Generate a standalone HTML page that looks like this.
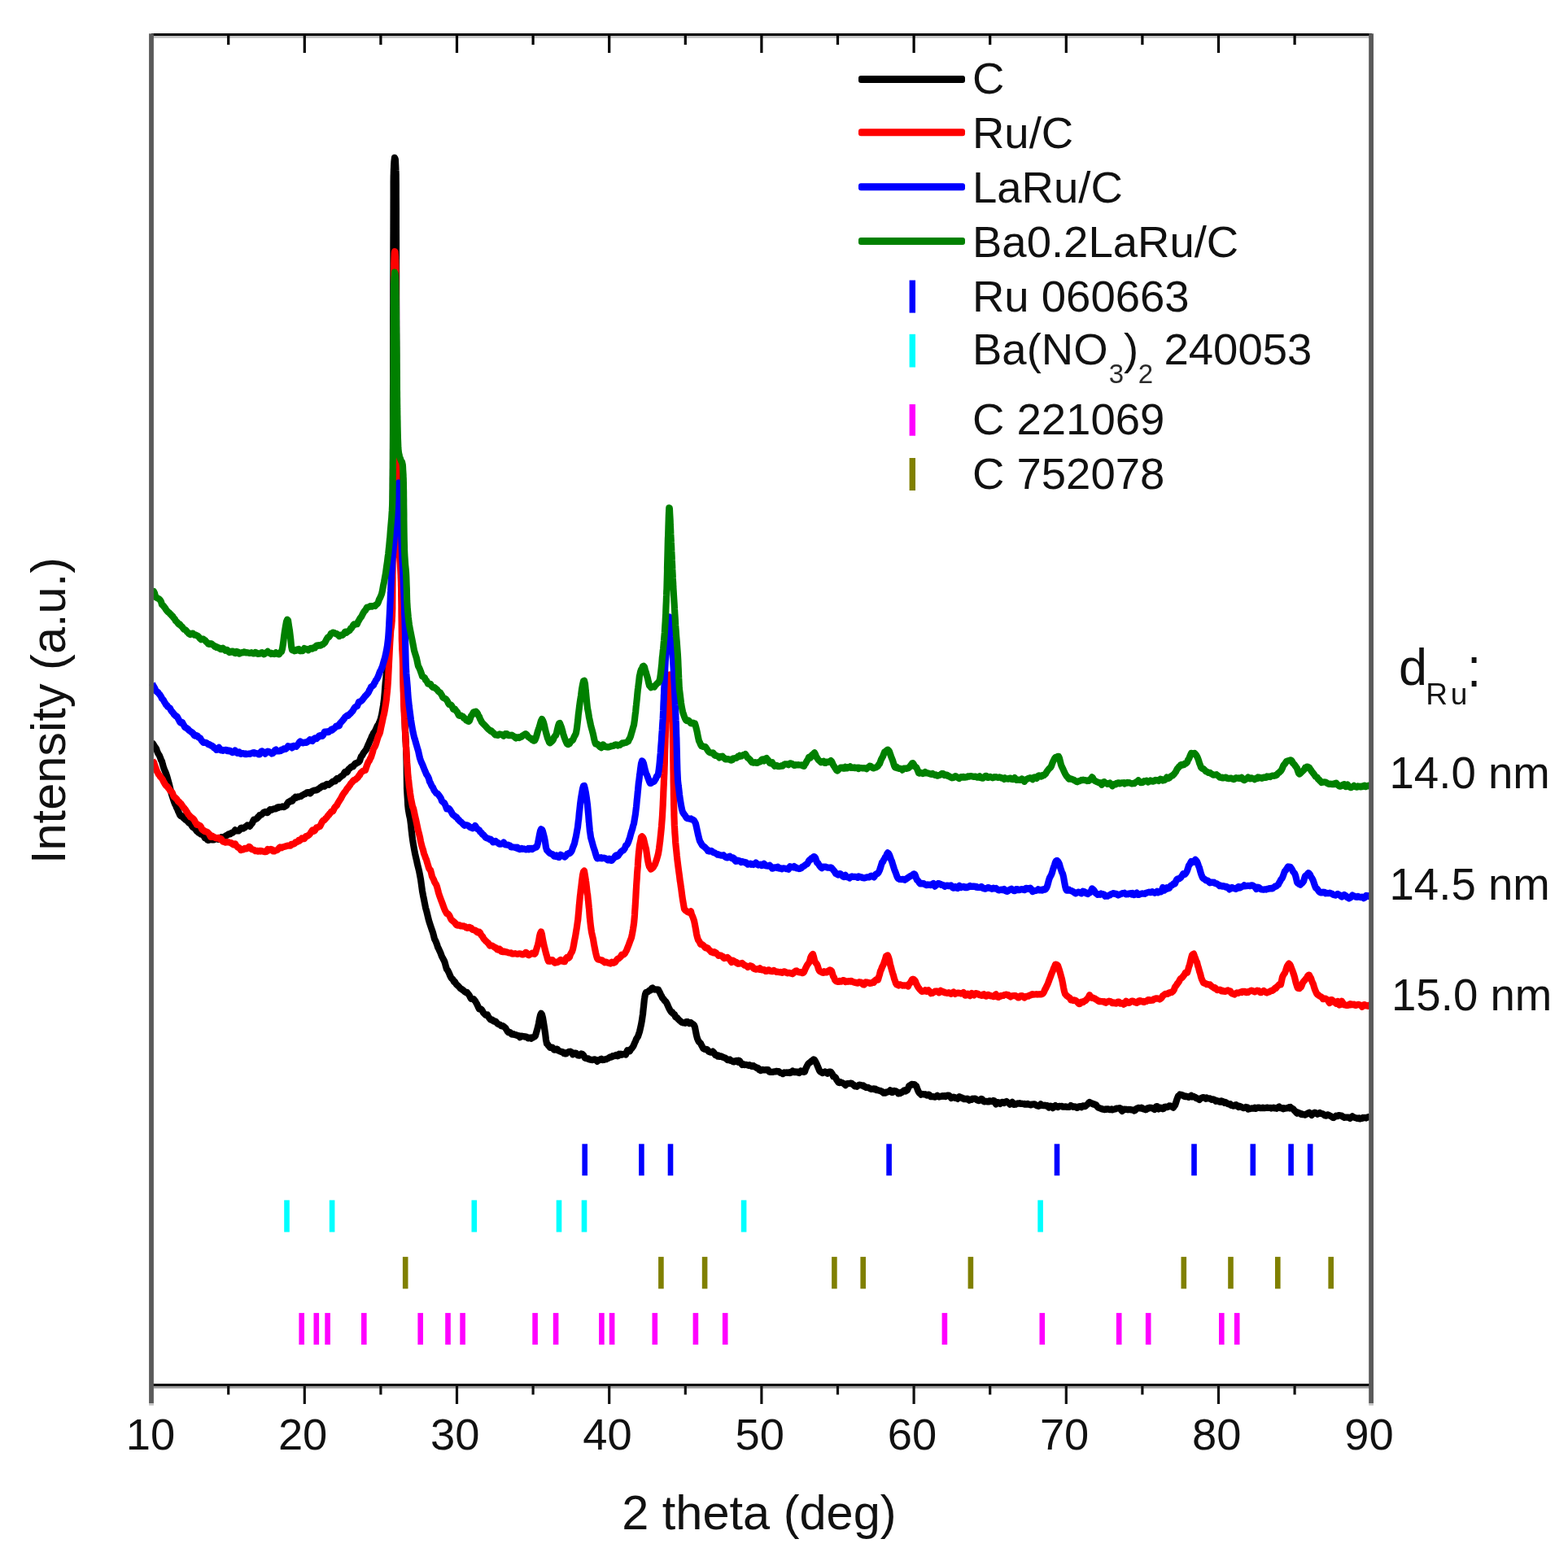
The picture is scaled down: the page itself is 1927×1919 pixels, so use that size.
<!DOCTYPE html>
<html><head><meta charset="utf-8"><title>XRD patterns</title>
<style>html,body{margin:0;padding:0;background:#fff;}body{width:1927px;height:1919px;overflow:hidden;}svg{display:block;}</style>
</head><body>
<svg width="1927" height="1919" viewBox="0 0 1927 1919" font-family="'Liberation Sans', Arial, sans-serif" fill="#111">
<rect width="1927" height="1919" fill="#fff"/>
<path d="M187.0,913.4 L188.0,914.1 L189.0,916.0 L190.0,917.4 L191.0,918.9 L192.0,920.3 L193.0,923.1 L194.0,925.7 L195.0,927.3 L196.0,928.9 L197.0,931.4 L198.0,934.4 L199.0,936.0 L200.0,939.9 L201.0,943.3 L202.0,946.0 L203.0,948.5 L204.0,950.7 L205.0,953.7 L206.0,957.1 L207.0,960.8 L208.0,964.3 L209.0,968.7 L210.0,972.7 L211.0,976.7 L212.0,979.5 L213.0,982.8 L214.0,985.8 L215.0,988.4 L216.0,989.9 L217.0,992.8 L218.0,994.6 L219.0,997.2 L220.0,999.4 L221.0,1001.7 L222.0,1003.0 L223.0,1002.6 L224.0,1003.1 L225.0,1005.0 L226.0,1006.1 L227.0,1006.7 L228.0,1007.9 L229.0,1008.0 L230.0,1009.2 L231.0,1010.0 L232.0,1011.5 L233.0,1011.8 L234.0,1012.9 L235.0,1013.9 L236.0,1015.6 L237.0,1016.9 L238.0,1017.1 L239.0,1017.9 L240.0,1019.3 L241.0,1020.5 L242.0,1021.9 L243.0,1022.5 L244.0,1023.7 L245.0,1023.9 L246.0,1024.7 L247.0,1025.6 L248.0,1025.9 L249.0,1025.7 L250.0,1026.8 L251.0,1028.6 L252.0,1030.3 L253.0,1030.7 L254.0,1031.3 L255.0,1032.4 L256.0,1033.0 L257.0,1032.6 L258.0,1031.9 L259.0,1031.3 L260.0,1032.5 L261.0,1032.4 L262.0,1032.5 L263.0,1032.2 L264.0,1031.9 L265.0,1031.4 L266.0,1031.4 L267.0,1031.1 L268.0,1031.7 L269.0,1032.0 L270.0,1031.6 L271.0,1030.0 L272.0,1029.2 L273.0,1029.2 L274.0,1029.1 L275.0,1029.3 L276.0,1028.5 L277.0,1028.0 L278.0,1027.1 L279.0,1026.8 L280.0,1026.0 L281.0,1025.3 L282.0,1025.2 L283.0,1025.3 L284.0,1024.1 L285.0,1023.6 L286.0,1023.7 L287.0,1022.7 L288.0,1021.8 L289.0,1020.4 L290.0,1021.4 L291.0,1021.5 L292.0,1021.3 L293.0,1021.5 L294.0,1020.7 L295.0,1019.9 L296.0,1018.0 L297.0,1017.7 L298.0,1018.4 L299.0,1018.6 L300.0,1017.4 L301.0,1017.3 L302.0,1016.1 L303.0,1015.4 L304.0,1014.5 L305.0,1015.1 L306.0,1015.0 L307.0,1015.8 L308.0,1014.2 L309.0,1013.2 L310.0,1011.8 L311.0,1009.4 L312.0,1007.7 L313.0,1007.6 L314.0,1007.2 L315.0,1006.7 L316.0,1006.1 L317.0,1004.4 L318.0,1004.0 L319.0,1002.1 L320.0,1002.2 L321.0,1001.7 L322.0,1000.9 L323.0,999.9 L324.0,998.8 L325.0,998.5 L326.0,998.0 L327.0,998.5 L328.0,999.1 L329.0,999.1 L330.0,997.6 L331.0,996.2 L332.0,995.2 L333.0,996.0 L334.0,995.6 L335.0,995.1 L336.0,994.5 L337.0,994.3 L338.0,994.2 L339.0,994.3 L340.0,993.1 L341.0,992.5 L342.0,993.0 L343.0,992.2 L344.0,992.1 L345.0,992.2 L346.0,992.0 L347.0,991.4 L348.0,991.7 L349.0,992.1 L350.0,991.4 L351.0,990.9 L352.0,990.3 L353.0,987.9 L354.0,986.4 L355.0,985.7 L356.0,985.9 L357.0,984.5 L358.0,984.9 L359.0,984.9 L360.0,983.4 L361.0,981.5 L362.0,980.9 L363.0,979.9 L364.0,980.7 L365.0,979.9 L366.0,979.4 L367.0,979.7 L368.0,979.3 L369.0,979.1 L370.0,978.9 L371.0,977.9 L372.0,977.4 L373.0,976.9 L374.0,976.1 L375.0,976.1 L376.0,975.2 L377.0,974.4 L378.0,974.3 L379.0,974.0 L380.0,974.3 L381.0,975.3 L382.0,974.6 L383.0,972.9 L384.0,972.6 L385.0,972.0 L386.0,971.8 L387.0,971.5 L388.0,971.5 L389.0,971.2 L390.0,970.9 L391.0,970.0 L392.0,969.4 L393.0,968.9 L394.0,967.8 L395.0,967.4 L396.0,966.5 L397.0,966.2 L398.0,965.7 L399.0,966.7 L400.0,965.5 L401.0,964.3 L402.0,963.9 L403.0,964.6 L404.0,964.8 L405.0,963.8 L406.0,963.3 L407.0,962.3 L408.0,961.8 L409.0,960.5 L410.0,960.5 L411.0,960.5 L412.0,960.4 L413.0,958.1 L414.0,957.2 L415.0,957.1 L416.0,957.6 L417.0,956.4 L418.0,955.5 L419.0,954.5 L420.0,953.8 L421.0,953.3 L422.0,952.5 L423.0,950.4 L424.0,949.0 L425.0,949.3 L426.0,949.5 L427.0,948.5 L428.0,946.3 L429.0,945.0 L430.0,944.4 L431.0,943.3 L432.0,942.5 L433.0,942.1 L434.0,942.4 L435.0,940.8 L436.0,939.3 L437.0,938.4 L438.0,938.5 L439.0,937.5 L440.0,937.5 L441.0,936.6 L442.0,935.5 L443.0,932.3 L444.0,929.6 L445.0,929.1 L446.0,927.0 L447.0,925.2 L448.0,924.1 L449.0,922.8 L450.0,921.5 L451.0,919.2 L452.0,916.7 L453.0,914.7 L454.0,912.2 L455.0,909.8 L456.0,907.8 L457.0,905.2 L458.0,903.5 L459.0,901.2 L460.0,899.9 L461.0,898.6 L462.0,896.4 L463.0,894.1 L464.0,891.9 L465.0,891.1 L466.0,888.4 L467.0,886.2 L468.0,883.1 L469.0,879.1 L470.0,873.4 L471.0,867.4 L471.8,861.3 L472.0,859.8 L472.2,858.1 L472.8,851.0 L473.0,848.3 L473.2,845.5 L473.8,838.4 L474.0,837.0 L474.2,835.5 L474.8,827.8 L475.0,826.4 L475.2,824.2 L475.8,818.0 L476.0,815.1 L476.2,811.3 L476.7,803.3 L476.9,800.3 L477.0,798.4 L477.1,796.7 L477.3,793.8 L477.8,785.5 L478.0,782.6 L478.2,778.9 L478.8,772.9 L479.0,770.8 L479.2,768.6 L479.8,761.6 L480.0,758.0 L480.2,753.5 L480.6,746.2 L480.7,743.1 L480.8,739.5 L480.9,737.2 L481.0,735.3 L481.1,733.3 L481.2,729.3 L481.3,725.3 L481.4,720.2 L481.6,712.5 L481.6,710.0 L481.7,707.7 L481.7,703.9 L481.8,701.8 L481.8,698.1 L481.9,694.9 L481.9,692.4 L482.0,688.6 L482.1,684.7 L482.1,681.2 L482.2,677.6 L482.2,673.4 L482.3,668.2 L482.3,663.4 L482.4,658.0 L482.4,651.6 L482.5,639.5 L482.6,633.0 L482.6,626.0 L482.7,618.7 L482.7,611.1 L482.8,602.8 L482.8,592.0 L482.9,574.9 L482.9,552.9 L483.0,526.4 L483.0,512.6 L483.0,498.4 L483.1,469.2 L483.1,441.8 L483.2,415.3 L483.2,394.2 L483.3,372.1 L483.3,350.0 L483.4,326.8 L483.4,302.9 L483.5,281.5 L483.6,240.2 L483.6,224.3 L483.7,215.9 L483.8,213.5 L483.8,211.8 L483.9,210.2 L483.9,208.3 L484.0,207.1 L484.1,204.6 L484.1,204.2 L484.2,202.4 L484.2,201.9 L484.3,200.4 L484.4,199.2 L484.4,198.8 L485.0,193.8 L485.8,195.6 L486.0,198.2 L486.2,202.8 L486.5,210.0 L486.6,211.5 L486.6,212.6 L486.7,214.4 L486.7,217.5 L486.8,226.0 L486.8,239.3 L486.9,256.2 L486.9,275.3 L487.0,296.8 L487.0,308.1 L487.0,319.6 L487.1,342.2 L487.1,365.3 L487.2,385.9 L487.2,405.3 L487.3,425.6 L487.3,448.8 L487.4,472.3 L487.4,495.1 L487.5,517.3 L487.5,549.9 L487.6,559.6 L487.6,564.8 L487.7,569.4 L487.7,574.4 L487.8,579.3 L487.8,583.6 L487.9,587.8 L487.9,591.6 L488.0,594.9 L488.0,597.2 L488.0,598.3 L488.1,602.5 L488.1,605.3 L488.2,608.2 L488.2,611.2 L488.3,614.0 L488.3,615.9 L488.4,618.1 L488.4,620.5 L488.5,622.2 L488.6,629.7 L488.8,634.9 L488.9,637.8 L489.0,640.1 L489.1,641.0 L489.2,644.5 L489.4,647.0 L489.8,653.2 L490.0,656.6 L490.2,659.7 L490.8,665.0 L491.0,666.7 L491.2,668.2 L491.8,676.7 L492.0,679.8 L492.2,683.5 L492.8,690.0 L493.0,694.3 L493.2,697.2 L493.6,705.3 L493.8,708.8 L493.9,711.8 L494.0,713.5 L494.1,715.6 L494.2,719.4 L494.4,724.8 L494.5,733.4 L494.6,735.3 L494.6,736.9 L494.7,739.4 L494.7,742.2 L494.8,745.4 L494.8,747.7 L494.9,750.8 L494.9,754.6 L495.0,757.9 L495.0,759.3 L495.0,761.1 L495.1,766.4 L495.1,773.4 L495.2,780.3 L495.2,788.7 L495.3,795.0 L495.3,800.7 L495.4,806.0 L495.4,810.5 L495.5,814.2 L495.6,826.9 L495.7,833.6 L495.8,838.4 L495.9,842.5 L496.0,846.5 L496.0,847.7 L496.0,850.3 L496.1,852.0 L496.2,855.2 L496.3,858.0 L496.4,860.4 L496.6,866.2 L496.8,869.8 L496.9,873.3 L497.0,875.6 L497.1,876.3 L497.2,880.5 L497.4,883.6 L497.7,891.1 L497.8,895.0 L498.0,898.5 L498.2,902.1 L498.3,905.8 L498.6,911.1 L498.8,913.3 L498.9,917.0 L499.0,918.6 L499.1,919.2 L499.2,923.7 L499.4,928.9 L499.6,938.7 L499.7,945.7 L499.8,953.5 L499.9,960.8 L500.0,966.2 L500.0,967.6 L500.0,969.0 L500.1,970.5 L500.2,972.4 L500.3,973.9 L500.4,976.0 L500.8,981.6 L501.0,985.6 L501.2,989.5 L501.8,995.2 L502.0,996.5 L502.2,997.5 L503.0,1002.0 L504.0,1006.3 L505.0,1014.1 L505.8,1022.2 L506.0,1023.1 L506.2,1025.5 L507.0,1031.8 L508.0,1038.2 L509.0,1043.9 L510.0,1049.1 L511.0,1053.6 L512.0,1057.7 L513.0,1062.6 L514.0,1066.6 L515.0,1070.5 L516.0,1075.6 L517.0,1080.9 L518.0,1088.3 L519.0,1095.4 L520.0,1100.8 L521.0,1105.6 L522.0,1110.7 L523.0,1115.8 L524.0,1119.3 L525.0,1123.3 L526.0,1127.5 L527.0,1131.5 L528.0,1134.7 L529.0,1137.7 L530.0,1140.7 L531.0,1143.6 L532.0,1146.5 L533.0,1150.2 L534.0,1154.4 L535.0,1156.1 L536.0,1158.4 L537.0,1160.9 L538.0,1164.4 L539.0,1166.1 L540.0,1168.5 L541.0,1170.6 L542.0,1173.1 L543.0,1175.8 L544.0,1177.7 L545.0,1179.7 L546.0,1181.4 L547.0,1184.4 L548.0,1188.3 L549.0,1191.5 L550.0,1192.7 L551.0,1194.4 L552.0,1196.5 L553.0,1199.2 L554.0,1201.2 L555.0,1202.7 L556.0,1203.5 L557.0,1204.9 L558.0,1207.0 L559.0,1206.8 L560.0,1208.8 L561.0,1210.3 L562.0,1211.2 L563.0,1211.9 L564.0,1213.0 L565.0,1214.2 L566.0,1215.3 L567.0,1215.6 L568.0,1216.7 L569.0,1217.1 L570.0,1218.0 L571.0,1219.1 L572.0,1219.7 L573.0,1220.1 L574.0,1219.9 L575.0,1221.5 L576.0,1222.6 L577.0,1224.1 L578.0,1226.2 L579.0,1227.8 L580.0,1227.7 L581.0,1228.1 L582.0,1228.0 L583.0,1229.6 L584.0,1230.5 L585.0,1232.5 L586.0,1234.0 L587.0,1236.3 L588.0,1238.4 L589.0,1240.6 L590.0,1240.8 L591.0,1240.5 L592.0,1241.4 L593.0,1243.0 L594.0,1245.1 L595.0,1245.9 L596.0,1247.0 L597.0,1247.9 L598.0,1247.7 L599.0,1247.5 L600.0,1249.6 L601.0,1251.2 L602.0,1252.4 L603.0,1253.6 L604.0,1253.5 L605.0,1253.6 L606.0,1255.0 L607.0,1255.7 L608.0,1255.4 L609.0,1255.5 L610.0,1256.8 L611.0,1258.1 L612.0,1258.9 L613.0,1259.2 L614.0,1259.4 L615.0,1260.2 L616.0,1261.1 L617.0,1261.5 L618.0,1261.1 L619.0,1261.9 L620.0,1262.8 L621.0,1263.4 L622.0,1265.1 L623.0,1266.7 L624.0,1268.4 L625.0,1269.2 L626.0,1268.9 L627.0,1269.2 L628.0,1270.5 L629.0,1271.5 L630.0,1271.7 L631.0,1271.1 L632.0,1272.0 L633.0,1272.2 L634.0,1272.1 L635.0,1272.7 L636.0,1273.1 L637.0,1273.0 L638.0,1273.4 L639.0,1275.1 L640.0,1274.0 L641.0,1273.5 L642.0,1273.9 L643.0,1274.2 L644.0,1274.0 L645.0,1274.7 L646.0,1274.4 L647.0,1274.7 L648.0,1275.6 L649.0,1276.4 L650.0,1275.8 L651.0,1276.0 L652.0,1275.7 L653.0,1276.6 L654.0,1275.3 L655.0,1275.6 L656.0,1274.8 L657.0,1274.4 L658.0,1273.3 L659.0,1269.6 L660.0,1266.3 L661.0,1262.6 L662.0,1258.0 L663.0,1252.5 L664.0,1248.2 L665.0,1245.8 L666.0,1247.2 L667.0,1251.0 L668.0,1257.0 L669.0,1263.1 L669.8,1268.8 L670.0,1269.7 L670.2,1271.3 L671.0,1278.2 L672.0,1283.1 L673.0,1283.6 L674.0,1285.5 L675.0,1286.4 L676.0,1287.7 L677.0,1288.0 L678.0,1287.8 L679.0,1287.7 L680.0,1289.2 L681.0,1290.6 L682.0,1290.6 L683.0,1290.0 L684.0,1289.6 L685.0,1289.8 L686.0,1291.6 L687.0,1291.9 L688.0,1292.4 L689.0,1292.8 L690.0,1292.9 L691.0,1293.6 L692.0,1293.4 L693.0,1295.0 L694.0,1295.0 L695.0,1295.5 L696.0,1295.3 L697.0,1293.9 L698.0,1293.5 L699.0,1292.9 L700.0,1293.2 L701.0,1292.7 L702.0,1293.3 L703.0,1294.0 L704.0,1296.2 L705.0,1295.7 L706.0,1294.5 L707.0,1294.5 L708.0,1294.7 L709.0,1296.2 L710.0,1297.4 L711.0,1297.5 L712.0,1297.7 L713.0,1296.7 L714.0,1295.6 L715.0,1296.6 L716.0,1296.0 L717.0,1297.2 L718.0,1298.9 L719.0,1300.7 L720.0,1300.9 L721.0,1301.3 L722.0,1301.3 L723.0,1301.4 L724.0,1302.2 L725.0,1302.5 L726.0,1302.8 L727.0,1303.0 L728.0,1303.1 L729.0,1302.5 L730.0,1302.6 L731.0,1302.3 L732.0,1303.1 L733.0,1303.7 L734.0,1304.8 L735.0,1303.2 L736.0,1303.0 L737.0,1303.1 L738.0,1302.2 L739.0,1301.7 L740.0,1303.0 L741.0,1303.1 L742.0,1302.9 L743.0,1302.3 L744.0,1302.3 L745.0,1302.2 L746.0,1301.6 L747.0,1301.2 L748.0,1300.8 L749.0,1299.9 L750.0,1299.3 L751.0,1299.6 L752.0,1299.3 L753.0,1298.1 L754.0,1298.2 L755.0,1298.2 L756.0,1297.6 L757.0,1297.0 L758.0,1297.8 L759.0,1298.3 L760.0,1297.8 L761.0,1295.8 L762.0,1297.0 L763.0,1295.9 L764.0,1296.7 L765.0,1296.4 L766.0,1295.9 L767.0,1295.6 L768.0,1295.5 L769.0,1296.4 L770.0,1293.9 L771.0,1291.3 L772.0,1292.2 L773.0,1291.7 L774.0,1292.2 L775.0,1290.0 L776.0,1289.2 L777.0,1287.9 L778.0,1286.6 L779.0,1284.6 L780.0,1282.0 L781.0,1280.0 L782.0,1277.3 L783.0,1275.8 L784.0,1274.3 L785.0,1271.2 L786.0,1268.2 L787.0,1263.9 L788.0,1259.4 L789.0,1253.7 L789.8,1248.0 L790.0,1247.0 L790.2,1244.9 L790.8,1238.9 L791.0,1237.7 L791.2,1235.3 L791.8,1229.4 L792.0,1227.7 L792.2,1226.8 L793.0,1222.3 L794.0,1219.8 L795.0,1219.9 L796.0,1219.4 L797.0,1218.7 L798.0,1217.7 L799.0,1217.7 L800.0,1216.8 L801.0,1215.0 L802.0,1214.5 L803.0,1215.8 L804.0,1216.4 L805.0,1216.6 L806.0,1216.4 L807.0,1216.5 L808.0,1216.8 L809.0,1216.6 L810.0,1218.7 L811.0,1220.4 L812.0,1222.7 L813.0,1224.2 L814.0,1226.8 L815.0,1227.5 L816.0,1229.0 L817.0,1230.4 L818.0,1231.1 L819.0,1232.6 L820.0,1234.5 L821.0,1236.8 L822.0,1239.1 L823.0,1241.0 L824.0,1242.8 L825.0,1244.3 L826.0,1244.1 L827.0,1246.2 L828.0,1246.7 L829.0,1247.1 L830.0,1250.0 L831.0,1250.8 L832.0,1251.0 L833.0,1252.4 L834.0,1253.3 L835.0,1254.5 L836.0,1255.1 L837.0,1256.1 L838.0,1256.8 L839.0,1257.0 L840.0,1257.5 L841.0,1257.1 L842.0,1257.7 L843.0,1256.3 L844.0,1256.1 L845.0,1256.2 L846.0,1257.2 L847.0,1258.2 L848.0,1257.1 L849.0,1257.2 L850.0,1258.0 L851.0,1258.7 L852.0,1259.3 L853.0,1260.2 L854.0,1262.8 L855.0,1268.1 L856.0,1273.0 L857.0,1276.6 L858.0,1279.0 L859.0,1280.9 L860.0,1281.6 L861.0,1282.6 L862.0,1284.7 L863.0,1286.5 L864.0,1288.6 L865.0,1289.3 L866.0,1289.8 L867.0,1290.1 L868.0,1289.9 L869.0,1290.0 L870.0,1291.2 L871.0,1292.7 L872.0,1293.1 L873.0,1293.6 L874.0,1293.6 L875.0,1293.8 L876.0,1292.7 L877.0,1293.6 L878.0,1295.0 L879.0,1297.0 L880.0,1296.7 L881.0,1297.3 L882.0,1298.4 L883.0,1297.6 L884.0,1298.8 L885.0,1298.9 L886.0,1298.3 L887.0,1298.7 L888.0,1299.6 L889.0,1299.6 L890.0,1300.4 L891.0,1300.3 L892.0,1301.0 L893.0,1302.0 L894.0,1303.1 L895.0,1303.1 L896.0,1303.2 L897.0,1302.6 L898.0,1303.9 L899.0,1303.8 L900.0,1304.6 L901.0,1305.2 L902.0,1305.4 L903.0,1305.0 L904.0,1304.2 L905.0,1303.9 L906.0,1305.0 L907.0,1305.7 L908.0,1303.7 L909.0,1304.3 L910.0,1305.8 L911.0,1307.4 L912.0,1308.8 L913.0,1307.9 L914.0,1308.4 L915.0,1309.1 L916.0,1308.8 L917.0,1308.9 L918.0,1309.3 L919.0,1309.3 L920.0,1310.0 L921.0,1309.3 L922.0,1310.1 L923.0,1309.8 L924.0,1310.9 L925.0,1310.8 L926.0,1310.2 L927.0,1311.3 L928.0,1311.4 L929.0,1312.0 L930.0,1313.1 L931.0,1312.7 L932.0,1313.4 L933.0,1315.2 L934.0,1315.7 L935.0,1316.1 L936.0,1315.5 L937.0,1314.9 L938.0,1315.1 L939.0,1315.5 L940.0,1315.4 L941.0,1315.0 L942.0,1315.1 L943.0,1315.2 L944.0,1315.2 L945.0,1317.3 L946.0,1317.8 L947.0,1317.8 L948.0,1317.8 L949.0,1317.9 L950.0,1317.8 L951.0,1317.5 L952.0,1317.3 L953.0,1317.5 L954.0,1316.9 L955.0,1316.8 L956.0,1317.3 L957.0,1317.1 L958.0,1318.0 L959.0,1318.8 L960.0,1319.1 L961.0,1319.4 L962.0,1320.1 L963.0,1319.2 L964.0,1318.3 L965.0,1318.8 L966.0,1318.8 L967.0,1318.4 L968.0,1318.8 L969.0,1318.7 L970.0,1318.2 L971.0,1319.0 L972.0,1318.6 L973.0,1317.7 L974.0,1316.5 L975.0,1317.5 L976.0,1318.1 L977.0,1318.2 L978.0,1317.4 L979.0,1317.6 L980.0,1317.7 L981.0,1318.6 L982.0,1319.0 L983.0,1317.4 L984.0,1316.6 L985.0,1317.5 L986.0,1317.4 L987.0,1317.7 L988.0,1317.8 L989.0,1317.5 L990.0,1314.2 L991.0,1312.2 L992.0,1310.0 L993.0,1308.3 L994.0,1307.0 L995.0,1306.3 L996.0,1305.8 L997.0,1304.5 L998.0,1303.8 L999.0,1303.3 L1000.0,1302.4 L1001.0,1302.9 L1002.0,1304.7 L1003.0,1306.6 L1004.0,1308.6 L1005.0,1311.2 L1006.0,1313.5 L1007.0,1316.1 L1008.0,1317.6 L1009.0,1317.7 L1010.0,1318.7 L1011.0,1319.1 L1012.0,1318.4 L1013.0,1318.3 L1014.0,1317.5 L1015.0,1318.2 L1016.0,1318.9 L1017.0,1319.7 L1018.0,1318.2 L1019.0,1317.5 L1020.0,1317.5 L1021.0,1317.7 L1022.0,1319.0 L1023.0,1320.7 L1024.0,1323.4 L1025.0,1323.1 L1026.0,1323.9 L1027.0,1324.9 L1028.0,1327.2 L1029.0,1328.6 L1030.0,1330.2 L1031.0,1331.0 L1032.0,1331.1 L1033.0,1330.3 L1034.0,1331.0 L1035.0,1331.1 L1036.0,1331.5 L1037.0,1332.2 L1038.0,1333.0 L1039.0,1334.1 L1040.0,1332.8 L1041.0,1332.2 L1042.0,1332.2 L1043.0,1332.2 L1044.0,1332.0 L1045.0,1331.8 L1046.0,1331.5 L1047.0,1332.1 L1048.0,1333.3 L1049.0,1333.3 L1050.0,1334.9 L1051.0,1335.5 L1052.0,1335.4 L1053.0,1335.8 L1054.0,1335.0 L1055.0,1334.2 L1056.0,1333.7 L1057.0,1333.8 L1058.0,1334.1 L1059.0,1334.3 L1060.0,1334.8 L1061.0,1334.5 L1062.0,1335.9 L1063.0,1335.9 L1064.0,1336.8 L1065.0,1336.9 L1066.0,1336.8 L1067.0,1336.9 L1068.0,1337.5 L1069.0,1338.2 L1070.0,1338.7 L1071.0,1338.9 L1072.0,1338.5 L1073.0,1338.5 L1074.0,1338.4 L1075.0,1339.2 L1076.0,1338.7 L1077.0,1340.1 L1078.0,1339.9 L1079.0,1340.1 L1080.0,1340.6 L1081.0,1340.9 L1082.0,1340.9 L1083.0,1341.6 L1084.0,1341.8 L1085.0,1342.9 L1086.0,1343.7 L1087.0,1343.4 L1088.0,1343.6 L1089.0,1342.7 L1090.0,1342.6 L1091.0,1342.2 L1092.0,1342.1 L1093.0,1341.8 L1094.0,1340.4 L1095.0,1342.1 L1096.0,1343.0 L1097.0,1343.0 L1098.0,1341.2 L1099.0,1340.9 L1100.0,1341.5 L1101.0,1341.3 L1102.0,1342.2 L1103.0,1342.4 L1104.0,1344.3 L1105.0,1343.8 L1106.0,1344.1 L1107.0,1342.9 L1108.0,1343.3 L1109.0,1342.4 L1110.0,1341.9 L1111.0,1340.4 L1112.0,1340.2 L1113.0,1341.5 L1114.0,1340.8 L1115.0,1340.2 L1116.0,1338.1 L1117.0,1335.3 L1118.0,1334.5 L1119.0,1334.2 L1120.0,1333.1 L1121.0,1332.8 L1122.0,1333.4 L1123.0,1333.0 L1124.0,1333.2 L1125.0,1334.5 L1126.0,1335.1 L1127.0,1337.6 L1128.0,1340.3 L1129.0,1342.3 L1130.0,1344.0 L1131.0,1344.2 L1132.0,1345.7 L1133.0,1345.2 L1134.0,1345.1 L1135.0,1345.3 L1136.0,1345.4 L1137.0,1345.2 L1138.0,1345.4 L1139.0,1346.6 L1140.0,1346.5 L1141.0,1345.5 L1142.0,1345.7 L1143.0,1347.4 L1144.0,1348.2 L1145.0,1347.9 L1146.0,1348.2 L1147.0,1348.1 L1148.0,1348.5 L1149.0,1348.6 L1150.0,1348.3 L1151.0,1347.5 L1152.0,1346.7 L1153.0,1347.8 L1154.0,1348.5 L1155.0,1348.1 L1156.0,1348.1 L1157.0,1347.4 L1158.0,1347.2 L1159.0,1347.8 L1160.0,1347.2 L1161.0,1347.0 L1162.0,1347.9 L1163.0,1347.0 L1164.0,1346.8 L1165.0,1346.5 L1166.0,1346.6 L1167.0,1347.2 L1168.0,1348.5 L1169.0,1349.9 L1170.0,1348.7 L1171.0,1349.3 L1172.0,1348.7 L1173.0,1349.0 L1174.0,1349.9 L1175.0,1350.1 L1176.0,1350.0 L1177.0,1350.8 L1178.0,1348.8 L1179.0,1348.1 L1180.0,1348.6 L1181.0,1349.5 L1182.0,1349.4 L1183.0,1350.4 L1184.0,1350.4 L1185.0,1351.2 L1186.0,1350.8 L1187.0,1350.9 L1188.0,1351.4 L1189.0,1350.6 L1190.0,1351.3 L1191.0,1352.7 L1192.0,1352.3 L1193.0,1351.6 L1194.0,1351.9 L1195.0,1350.7 L1196.0,1351.0 L1197.0,1350.8 L1198.0,1350.5 L1199.0,1350.7 L1200.0,1351.8 L1201.0,1352.6 L1202.0,1352.7 L1203.0,1353.1 L1204.0,1352.2 L1205.0,1351.8 L1206.0,1350.9 L1207.0,1351.2 L1208.0,1353.0 L1209.0,1354.0 L1210.0,1354.4 L1211.0,1353.9 L1212.0,1353.8 L1213.0,1354.0 L1214.0,1354.5 L1215.0,1354.4 L1216.0,1353.3 L1217.0,1353.3 L1218.0,1353.8 L1219.0,1353.9 L1220.0,1353.9 L1221.0,1353.0 L1222.0,1353.4 L1223.0,1355.9 L1224.0,1357.3 L1225.0,1356.5 L1226.0,1355.1 L1227.0,1355.3 L1228.0,1356.1 L1229.0,1356.9 L1230.0,1356.0 L1231.0,1355.1 L1232.0,1354.8 L1233.0,1355.2 L1234.0,1356.0 L1235.0,1354.7 L1236.0,1354.8 L1237.0,1354.1 L1238.0,1355.2 L1239.0,1355.5 L1240.0,1356.1 L1241.0,1357.6 L1242.0,1356.7 L1243.0,1355.5 L1244.0,1354.8 L1245.0,1356.0 L1246.0,1357.9 L1247.0,1357.7 L1248.0,1357.7 L1249.0,1356.9 L1250.0,1356.8 L1251.0,1356.4 L1252.0,1356.6 L1253.0,1356.1 L1254.0,1356.9 L1255.0,1356.9 L1256.0,1356.6 L1257.0,1357.1 L1258.0,1357.3 L1259.0,1356.9 L1260.0,1357.7 L1261.0,1357.6 L1262.0,1357.2 L1263.0,1356.8 L1264.0,1357.7 L1265.0,1357.6 L1266.0,1358.2 L1267.0,1358.4 L1268.0,1357.5 L1269.0,1357.7 L1270.0,1357.3 L1271.0,1357.3 L1272.0,1357.6 L1273.0,1358.3 L1274.0,1359.2 L1275.0,1359.4 L1276.0,1359.8 L1277.0,1359.5 L1278.0,1358.7 L1279.0,1357.3 L1280.0,1358.2 L1281.0,1359.0 L1282.0,1359.1 L1283.0,1359.0 L1284.0,1358.7 L1285.0,1359.4 L1286.0,1359.1 L1287.0,1359.2 L1288.0,1359.9 L1289.0,1361.5 L1290.0,1360.3 L1291.0,1359.6 L1292.0,1359.9 L1293.0,1360.8 L1294.0,1362.1 L1295.0,1360.7 L1296.0,1360.4 L1297.0,1359.2 L1298.0,1360.3 L1299.0,1360.3 L1300.0,1361.0 L1301.0,1360.0 L1302.0,1359.9 L1303.0,1360.0 L1304.0,1360.0 L1305.0,1359.8 L1306.0,1360.7 L1307.0,1360.5 L1308.0,1360.7 L1309.0,1360.3 L1310.0,1360.6 L1311.0,1360.9 L1312.0,1361.0 L1313.0,1360.6 L1314.0,1360.8 L1315.0,1360.7 L1316.0,1359.1 L1317.0,1359.7 L1318.0,1360.1 L1319.0,1360.8 L1320.0,1360.4 L1321.0,1360.8 L1322.0,1360.7 L1323.0,1361.7 L1324.0,1361.9 L1325.0,1361.1 L1326.0,1360.4 L1327.0,1360.0 L1328.0,1360.0 L1329.0,1361.1 L1330.0,1360.2 L1331.0,1359.3 L1332.0,1359.6 L1333.0,1360.2 L1334.0,1359.9 L1335.0,1358.7 L1336.0,1358.1 L1337.0,1357.1 L1338.0,1355.8 L1339.0,1355.0 L1340.0,1355.6 L1341.0,1356.2 L1342.0,1356.3 L1343.0,1357.3 L1344.0,1357.7 L1345.0,1357.4 L1346.0,1358.1 L1347.0,1358.3 L1348.0,1359.8 L1349.0,1361.0 L1350.0,1361.8 L1351.0,1362.0 L1352.0,1362.6 L1353.0,1362.5 L1354.0,1363.3 L1355.0,1363.6 L1356.0,1363.7 L1357.0,1364.2 L1358.0,1363.9 L1359.0,1363.3 L1360.0,1363.8 L1361.0,1363.6 L1362.0,1363.3 L1363.0,1364.0 L1364.0,1364.2 L1365.0,1364.1 L1366.0,1363.5 L1367.0,1364.3 L1368.0,1364.0 L1369.0,1363.8 L1370.0,1363.6 L1371.0,1363.3 L1372.0,1362.5 L1373.0,1362.5 L1374.0,1362.5 L1375.0,1362.5 L1376.0,1362.1 L1377.0,1362.5 L1378.0,1364.7 L1379.0,1365.9 L1380.0,1364.9 L1381.0,1363.7 L1382.0,1363.5 L1383.0,1364.2 L1384.0,1363.7 L1385.0,1364.1 L1386.0,1364.3 L1387.0,1363.9 L1388.0,1364.2 L1389.0,1363.8 L1390.0,1364.5 L1391.0,1364.4 L1392.0,1364.5 L1393.0,1364.6 L1394.0,1365.6 L1395.0,1365.0 L1396.0,1363.9 L1397.0,1362.6 L1398.0,1362.7 L1399.0,1361.8 L1400.0,1362.1 L1401.0,1362.4 L1402.0,1362.6 L1403.0,1361.7 L1404.0,1362.3 L1405.0,1363.3 L1406.0,1363.4 L1407.0,1363.8 L1408.0,1364.3 L1409.0,1363.9 L1410.0,1362.5 L1411.0,1362.8 L1412.0,1362.0 L1413.0,1361.6 L1414.0,1362.2 L1415.0,1361.9 L1416.0,1362.0 L1417.0,1362.9 L1418.0,1363.2 L1419.0,1364.0 L1420.0,1362.5 L1421.0,1360.3 L1422.0,1360.1 L1423.0,1362.2 L1424.0,1363.4 L1425.0,1362.6 L1426.0,1361.7 L1427.0,1361.8 L1428.0,1362.9 L1429.0,1363.3 L1430.0,1362.9 L1431.0,1360.9 L1432.0,1360.8 L1433.0,1360.6 L1434.0,1361.2 L1435.0,1360.8 L1436.0,1360.5 L1437.0,1359.5 L1438.0,1359.8 L1439.0,1359.7 L1440.0,1360.4 L1441.0,1361.1 L1442.0,1361.7 L1443.0,1360.1 L1444.0,1358.8 L1445.0,1356.0 L1446.0,1352.7 L1447.0,1349.8 L1448.0,1347.5 L1449.0,1347.2 L1450.0,1345.5 L1451.0,1346.0 L1452.0,1345.8 L1453.0,1346.2 L1454.0,1346.7 L1455.0,1347.7 L1456.0,1348.2 L1457.0,1347.5 L1458.0,1347.8 L1459.0,1348.3 L1460.0,1348.1 L1461.0,1348.8 L1462.0,1347.8 L1463.0,1347.8 L1464.0,1346.8 L1465.0,1348.5 L1466.0,1348.1 L1467.0,1347.9 L1468.0,1348.7 L1469.0,1348.8 L1470.0,1350.2 L1471.0,1350.1 L1472.0,1350.7 L1473.0,1351.3 L1474.0,1351.9 L1475.0,1350.6 L1476.0,1350.2 L1477.0,1349.6 L1478.0,1349.1 L1479.0,1349.1 L1480.0,1349.5 L1481.0,1349.7 L1482.0,1350.6 L1483.0,1349.6 L1484.0,1350.4 L1485.0,1350.5 L1486.0,1350.3 L1487.0,1350.4 L1488.0,1351.0 L1489.0,1351.8 L1490.0,1351.7 L1491.0,1351.3 L1492.0,1351.9 L1493.0,1352.4 L1494.0,1353.6 L1495.0,1352.9 L1496.0,1353.6 L1497.0,1353.6 L1498.0,1353.8 L1499.0,1354.7 L1500.0,1354.6 L1501.0,1353.6 L1502.0,1354.6 L1503.0,1354.2 L1504.0,1355.1 L1505.0,1355.8 L1506.0,1355.0 L1507.0,1355.6 L1508.0,1356.2 L1509.0,1357.0 L1510.0,1357.3 L1511.0,1357.7 L1512.0,1357.3 L1513.0,1358.8 L1514.0,1358.6 L1515.0,1359.2 L1516.0,1359.6 L1517.0,1359.4 L1518.0,1358.5 L1519.0,1358.2 L1520.0,1359.2 L1521.0,1360.2 L1522.0,1360.9 L1523.0,1359.7 L1524.0,1359.9 L1525.0,1360.5 L1526.0,1361.1 L1527.0,1361.5 L1528.0,1362.2 L1529.0,1362.2 L1530.0,1361.7 L1531.0,1361.0 L1532.0,1361.6 L1533.0,1361.4 L1534.0,1363.5 L1535.0,1363.0 L1536.0,1363.1 L1537.0,1362.8 L1538.0,1362.3 L1539.0,1362.7 L1540.0,1362.4 L1541.0,1362.7 L1542.0,1361.9 L1543.0,1362.9 L1544.0,1362.5 L1545.0,1362.0 L1546.0,1361.6 L1547.0,1361.5 L1548.0,1361.7 L1549.0,1362.1 L1550.0,1362.2 L1551.0,1361.9 L1552.0,1361.6 L1553.0,1362.2 L1554.0,1362.2 L1555.0,1362.0 L1556.0,1361.9 L1557.0,1361.5 L1558.0,1361.8 L1559.0,1362.0 L1560.0,1362.0 L1561.0,1361.8 L1562.0,1362.5 L1563.0,1361.9 L1564.0,1362.1 L1565.0,1361.7 L1566.0,1361.8 L1567.0,1362.4 L1568.0,1362.1 L1569.0,1362.7 L1570.0,1361.6 L1571.0,1361.1 L1572.0,1360.5 L1573.0,1361.4 L1574.0,1362.2 L1575.0,1362.1 L1576.0,1362.7 L1577.0,1363.3 L1578.0,1362.2 L1579.0,1362.8 L1580.0,1362.6 L1581.0,1362.2 L1582.0,1362.3 L1583.0,1361.9 L1584.0,1361.3 L1585.0,1362.3 L1586.0,1361.2 L1587.0,1362.2 L1588.0,1362.6 L1589.0,1363.1 L1590.0,1364.2 L1591.0,1365.5 L1592.0,1366.4 L1593.0,1367.6 L1594.0,1368.6 L1595.0,1367.4 L1596.0,1368.0 L1597.0,1368.4 L1598.0,1368.9 L1599.0,1369.9 L1600.0,1369.4 L1601.0,1370.2 L1602.0,1370.1 L1603.0,1370.2 L1604.0,1370.6 L1605.0,1369.8 L1606.0,1369.7 L1607.0,1368.5 L1608.0,1368.3 L1609.0,1367.7 L1610.0,1368.5 L1611.0,1369.6 L1612.0,1370.8 L1613.0,1369.4 L1614.0,1369.0 L1615.0,1368.0 L1616.0,1367.7 L1617.0,1368.1 L1618.0,1368.9 L1619.0,1369.8 L1620.0,1369.2 L1621.0,1368.9 L1622.0,1368.0 L1623.0,1368.9 L1624.0,1369.1 L1625.0,1369.0 L1626.0,1369.6 L1627.0,1370.3 L1628.0,1371.5 L1629.0,1371.5 L1630.0,1371.7 L1631.0,1370.5 L1632.0,1370.3 L1633.0,1371.0 L1634.0,1371.3 L1635.0,1371.8 L1636.0,1372.4 L1637.0,1373.0 L1638.0,1373.9 L1639.0,1374.1 L1640.0,1373.0 L1641.0,1372.6 L1642.0,1371.7 L1643.0,1371.9 L1644.0,1372.1 L1645.0,1371.3 L1646.0,1371.0 L1647.0,1371.4 L1648.0,1371.6 L1649.0,1371.7 L1650.0,1372.8 L1651.0,1373.1 L1652.0,1373.9 L1653.0,1373.6 L1654.0,1373.6 L1655.0,1373.6 L1656.0,1373.5 L1657.0,1373.5 L1658.0,1374.0 L1659.0,1374.8 L1660.0,1374.1 L1661.0,1373.6 L1662.0,1372.4 L1663.0,1373.2 L1664.0,1373.5 L1665.0,1374.1 L1666.0,1374.3 L1667.0,1374.5 L1668.0,1374.9 L1669.0,1374.6 L1670.0,1374.4 L1671.0,1375.5 L1672.0,1375.4 L1673.0,1374.6 L1674.0,1374.8 L1675.0,1374.0 L1676.0,1374.4 L1677.0,1373.9 L1678.0,1374.1 L1679.0,1374.5 L1680.0,1373.8 L1681.0,1373.5 L1682.0,1373.1 L1683.0,1372.8 L1684.0,1372.3" fill="none" stroke="#000000" stroke-width="8.2" stroke-linejoin="round" stroke-linecap="butt"/>
<path d="M187.0,934.6 L188.0,936.2 L189.0,937.1 L190.0,940.1 L191.0,943.2 L192.0,945.6 L193.0,948.4 L194.0,950.1 L195.0,952.1 L196.0,953.1 L197.0,954.8 L198.0,955.8 L199.0,957.2 L200.0,958.6 L201.0,960.9 L202.0,962.5 L203.0,964.4 L204.0,965.6 L205.0,966.5 L206.0,967.5 L207.0,969.0 L208.0,970.1 L209.0,971.9 L210.0,972.8 L211.0,973.4 L212.0,975.1 L213.0,977.9 L214.0,979.7 L215.0,980.2 L216.0,981.4 L217.0,982.0 L218.0,983.7 L219.0,985.3 L220.0,985.5 L221.0,987.1 L222.0,987.5 L223.0,989.1 L224.0,990.4 L225.0,992.1 L226.0,993.0 L227.0,994.4 L228.0,995.4 L229.0,997.5 L230.0,998.5 L231.0,1000.5 L232.0,1001.8 L233.0,1002.6 L234.0,1004.3 L235.0,1004.6 L236.0,1005.4 L237.0,1006.2 L238.0,1007.2 L239.0,1008.6 L240.0,1010.8 L241.0,1012.1 L242.0,1014.0 L243.0,1013.9 L244.0,1014.1 L245.0,1014.9 L246.0,1015.2 L247.0,1016.5 L248.0,1019.2 L249.0,1020.3 L250.0,1020.4 L251.0,1021.7 L252.0,1022.1 L253.0,1022.2 L254.0,1022.6 L255.0,1023.1 L256.0,1024.1 L257.0,1025.1 L258.0,1027.0 L259.0,1029.0 L260.0,1028.9 L261.0,1027.8 L262.0,1028.6 L263.0,1029.0 L264.0,1029.5 L265.0,1030.0 L266.0,1030.3 L267.0,1030.3 L268.0,1029.8 L269.0,1030.1 L270.0,1031.4 L271.0,1030.8 L272.0,1031.5 L273.0,1033.3 L274.0,1034.6 L275.0,1034.9 L276.0,1034.8 L277.0,1035.7 L278.0,1035.2 L279.0,1035.2 L280.0,1035.3 L281.0,1035.4 L282.0,1035.8 L283.0,1036.0 L284.0,1036.0 L285.0,1037.2 L286.0,1037.8 L287.0,1038.4 L288.0,1037.5 L289.0,1037.3 L290.0,1039.5 L291.0,1040.2 L292.0,1041.4 L293.0,1042.0 L294.0,1042.3 L295.0,1043.4 L296.0,1045.0 L297.0,1044.0 L298.0,1044.6 L299.0,1044.4 L300.0,1043.3 L301.0,1042.9 L302.0,1043.0 L303.0,1043.4 L304.0,1042.5 L305.0,1041.9 L306.0,1040.9 L307.0,1041.3 L308.0,1042.6 L309.0,1044.1 L310.0,1044.1 L311.0,1044.6 L312.0,1044.8 L313.0,1045.4 L314.0,1046.2 L315.0,1046.2 L316.0,1045.8 L317.0,1046.7 L318.0,1046.2 L319.0,1045.9 L320.0,1046.6 L321.0,1045.9 L322.0,1046.4 L323.0,1046.5 L324.0,1046.8 L325.0,1047.1 L326.0,1047.2 L327.0,1047.0 L328.0,1046.5 L329.0,1044.0 L330.0,1044.9 L331.0,1045.2 L332.0,1044.4 L333.0,1043.8 L334.0,1044.3 L335.0,1044.6 L336.0,1046.5 L337.0,1046.4 L338.0,1045.8 L339.0,1045.6 L340.0,1045.1 L341.0,1044.8 L342.0,1043.7 L343.0,1042.5 L344.0,1041.4 L345.0,1042.1 L346.0,1042.3 L347.0,1041.6 L348.0,1041.3 L349.0,1041.1 L350.0,1040.6 L351.0,1040.5 L352.0,1040.0 L353.0,1039.8 L354.0,1039.5 L355.0,1039.6 L356.0,1039.2 L357.0,1039.5 L358.0,1037.9 L359.0,1038.2 L360.0,1037.6 L361.0,1037.5 L362.0,1036.9 L363.0,1035.4 L364.0,1035.5 L365.0,1034.9 L366.0,1034.7 L367.0,1033.1 L368.0,1033.7 L369.0,1032.6 L370.0,1032.2 L371.0,1030.4 L372.0,1030.9 L373.0,1030.7 L374.0,1031.0 L375.0,1029.6 L376.0,1028.1 L377.0,1028.0 L378.0,1027.5 L379.0,1027.0 L380.0,1026.1 L381.0,1025.1 L382.0,1023.6 L383.0,1021.9 L384.0,1020.6 L385.0,1021.8 L386.0,1021.8 L387.0,1020.9 L388.0,1019.0 L389.0,1017.4 L390.0,1017.3 L391.0,1017.0 L392.0,1016.3 L393.0,1016.1 L394.0,1014.4 L395.0,1012.2 L396.0,1010.0 L397.0,1008.8 L398.0,1008.5 L399.0,1007.7 L400.0,1006.4 L401.0,1005.5 L402.0,1004.3 L403.0,1002.7 L404.0,1002.1 L405.0,1000.4 L406.0,999.7 L407.0,997.8 L408.0,997.6 L409.0,997.5 L410.0,995.4 L411.0,993.2 L412.0,991.9 L413.0,991.0 L414.0,989.9 L415.0,987.8 L416.0,986.2 L417.0,984.6 L418.0,983.1 L419.0,981.6 L420.0,979.4 L421.0,977.6 L422.0,976.0 L423.0,974.5 L424.0,973.4 L425.0,971.9 L426.0,970.3 L427.0,969.0 L428.0,968.0 L429.0,966.4 L430.0,965.3 L431.0,963.4 L432.0,962.4 L433.0,961.3 L434.0,959.9 L435.0,959.0 L436.0,958.8 L437.0,958.3 L438.0,957.1 L439.0,956.6 L440.0,955.5 L441.0,953.6 L442.0,953.0 L443.0,950.8 L444.0,949.4 L445.0,948.8 L446.0,947.9 L447.0,947.6 L448.0,946.9 L449.0,946.9 L450.0,943.7 L451.0,940.8 L452.0,938.2 L453.0,936.2 L454.0,934.9 L455.0,932.5 L456.0,930.9 L457.0,927.6 L458.0,924.5 L459.0,920.4 L460.0,919.1 L461.0,917.2 L462.0,914.6 L463.0,911.3 L464.0,907.8 L465.0,904.9 L466.0,903.0 L467.0,900.5 L468.0,895.4 L469.0,890.9 L470.0,886.4 L471.0,881.5 L472.0,877.7 L473.0,872.2 L474.0,866.2 L474.8,860.7 L475.0,859.5 L475.2,856.9 L475.8,851.0 L476.0,849.0 L476.2,847.1 L476.7,840.3 L476.9,837.0 L477.0,835.8 L477.1,833.5 L477.3,829.4 L477.7,821.2 L477.9,817.0 L478.0,814.9 L478.1,812.9 L478.3,809.5 L478.7,801.3 L478.9,797.2 L479.0,795.0 L479.1,793.4 L479.3,789.6 L479.8,782.4 L480.0,778.9 L480.2,775.5 L480.8,771.6 L481.0,770.6 L481.2,769.0 L481.6,763.9 L481.7,763.4 L481.7,761.4 L481.8,759.8 L481.9,758.3 L482.0,756.9 L482.0,756.3 L482.0,755.4 L482.1,753.1 L482.2,750.4 L482.3,748.3 L482.3,743.8 L482.4,732.1 L482.5,706.9 L482.6,700.0 L482.6,694.4 L482.7,688.9 L482.7,684.4 L482.8,679.6 L482.8,675.3 L482.9,671.6 L482.9,668.1 L483.0,664.0 L483.0,661.3 L483.0,659.7 L483.1,654.4 L483.1,649.8 L483.2,643.6 L483.2,636.8 L483.3,629.7 L483.3,620.8 L483.4,611.4 L483.4,601.2 L483.5,591.0 L483.5,567.6 L483.6,555.2 L483.6,542.2 L483.7,529.7 L483.7,515.6 L483.8,501.9 L483.8,488.8 L483.9,474.2 L483.9,455.6 L484.0,434.2 L484.0,423.7 L484.0,413.0 L484.1,390.8 L484.1,370.4 L484.2,351.1 L484.2,337.1 L484.3,326.9 L484.3,323.8 L484.4,321.9 L484.4,320.9 L484.5,319.0 L484.8,311.4 L485.0,309.8 L485.2,309.1 L485.6,310.0 L485.6,311.3 L485.7,312.1 L485.8,312.6 L485.8,313.2 L485.9,314.6 L486.0,315.7 L486.0,317.1 L486.0,317.5 L486.1,319.2 L486.2,320.6 L486.2,321.9 L486.3,324.4 L486.4,331.2 L486.4,346.6 L486.5,384.4 L486.6,402.4 L486.6,421.0 L486.7,439.6 L486.7,455.4 L486.8,469.9 L486.8,481.6 L486.9,490.1 L486.9,498.5 L487.0,507.1 L487.0,511.5 L487.0,514.4 L487.1,522.9 L487.1,530.8 L487.2,538.4 L487.2,545.9 L487.3,553.2 L487.3,560.8 L487.4,567.3 L487.4,574.2 L487.5,580.8 L487.6,594.4 L487.6,601.1 L487.7,608.0 L487.7,613.7 L487.8,619.6 L487.8,624.9 L487.9,629.5 L487.9,634.1 L488.0,638.1 L488.1,642.2 L488.1,645.1 L488.2,647.7 L488.2,650.4 L488.3,652.2 L488.3,652.7 L488.4,655.0 L488.4,655.5 L488.8,661.6 L489.0,663.9 L489.2,665.3 L489.8,671.3 L490.0,674.1 L490.2,675.0 L490.8,682.4 L491.0,684.5 L491.2,685.7 L491.7,692.5 L491.9,695.5 L492.0,697.7 L492.1,698.2 L492.3,702.0 L492.6,708.1 L492.6,709.8 L492.7,711.3 L492.8,714.0 L492.9,716.2 L492.9,718.8 L493.0,721.7 L493.1,725.1 L493.1,729.4 L493.2,734.5 L493.3,739.7 L493.4,745.7 L493.4,751.5 L493.6,765.8 L493.7,773.8 L493.8,779.9 L493.8,784.8 L493.9,788.3 L494.0,790.4 L494.1,793.2 L494.2,795.2 L494.2,797.7 L494.3,799.2 L494.4,800.8 L494.6,804.5 L494.7,806.8 L494.8,809.0 L494.9,812.4 L495.0,815.4 L495.1,820.0 L495.2,825.0 L495.3,830.8 L495.4,835.8 L495.6,846.0 L495.8,850.3 L495.9,855.5 L496.0,859.5 L496.1,863.4 L496.2,866.6 L496.4,869.9 L496.7,875.7 L496.9,880.2 L497.0,881.3 L497.1,884.0 L497.3,886.4 L497.7,894.1 L497.9,897.7 L498.0,900.7 L498.1,901.6 L498.3,905.8 L498.7,912.9 L498.9,916.0 L499.0,918.2 L499.1,920.2 L499.3,923.1 L499.8,930.3 L500.0,933.6 L500.2,937.3 L500.8,944.0 L501.0,947.5 L501.2,951.0 L501.8,956.7 L502.0,958.3 L502.2,959.6 L502.8,965.8 L503.0,967.9 L503.2,968.5 L504.0,975.1 L505.0,981.5 L506.0,986.5 L507.0,991.5 L508.0,993.7 L509.0,998.2 L510.0,1003.0 L511.0,1007.1 L512.0,1011.8 L513.0,1016.6 L514.0,1021.4 L515.0,1024.9 L516.0,1029.1 L517.0,1034.3 L518.0,1038.7 L519.0,1042.2 L520.0,1045.0 L521.0,1049.3 L522.0,1051.6 L523.0,1054.7 L524.0,1056.8 L525.0,1060.3 L526.0,1063.7 L527.0,1067.0 L528.0,1068.9 L529.0,1069.6 L530.0,1073.3 L531.0,1077.5 L532.0,1079.5 L533.0,1081.4 L534.0,1084.2 L535.0,1085.8 L536.0,1087.4 L537.0,1090.0 L538.0,1093.8 L539.0,1097.6 L540.0,1100.9 L541.0,1103.5 L542.0,1106.4 L543.0,1108.8 L544.0,1111.5 L545.0,1114.3 L546.0,1117.0 L547.0,1119.4 L548.0,1121.1 L549.0,1123.1 L550.0,1123.2 L551.0,1123.9 L552.0,1125.1 L553.0,1127.1 L554.0,1129.4 L555.0,1130.9 L556.0,1131.8 L557.0,1132.6 L558.0,1133.3 L559.0,1134.2 L560.0,1136.0 L561.0,1137.2 L562.0,1137.7 L563.0,1136.9 L564.0,1137.4 L565.0,1137.4 L566.0,1138.2 L567.0,1138.5 L568.0,1138.3 L569.0,1138.6 L570.0,1138.4 L571.0,1139.1 L572.0,1139.1 L573.0,1140.4 L574.0,1140.8 L575.0,1140.7 L576.0,1140.1 L577.0,1139.8 L578.0,1140.5 L579.0,1140.7 L580.0,1142.1 L581.0,1143.0 L582.0,1143.1 L583.0,1143.6 L584.0,1143.7 L585.0,1144.4 L586.0,1145.6 L587.0,1146.3 L588.0,1145.6 L589.0,1145.6 L590.0,1146.6 L591.0,1148.9 L592.0,1150.3 L593.0,1151.1 L594.0,1153.2 L595.0,1154.7 L596.0,1155.7 L597.0,1156.9 L598.0,1157.5 L599.0,1158.7 L600.0,1159.4 L601.0,1161.1 L602.0,1162.6 L603.0,1162.1 L604.0,1162.4 L605.0,1162.8 L606.0,1163.1 L607.0,1164.1 L608.0,1164.7 L609.0,1164.8 L610.0,1166.1 L611.0,1167.2 L612.0,1167.5 L613.0,1166.6 L614.0,1166.7 L615.0,1167.6 L616.0,1169.6 L617.0,1170.0 L618.0,1170.1 L619.0,1169.7 L620.0,1169.7 L621.0,1170.3 L622.0,1170.5 L623.0,1170.3 L624.0,1170.8 L625.0,1171.3 L626.0,1171.5 L627.0,1171.5 L628.0,1171.4 L629.0,1172.4 L630.0,1172.6 L631.0,1172.5 L632.0,1172.4 L633.0,1172.2 L634.0,1172.5 L635.0,1172.5 L636.0,1172.9 L637.0,1172.6 L638.0,1172.4 L639.0,1172.4 L640.0,1172.6 L641.0,1173.1 L642.0,1173.5 L643.0,1173.5 L644.0,1172.6 L645.0,1172.2 L646.0,1170.8 L647.0,1171.1 L648.0,1172.3 L649.0,1174.1 L650.0,1174.3 L651.0,1173.4 L652.0,1173.0 L653.0,1172.5 L654.0,1171.7 L655.0,1172.1 L656.0,1172.6 L657.0,1172.9 L658.0,1171.5 L659.0,1167.9 L660.0,1164.6 L661.0,1161.4 L662.0,1157.2 L663.0,1151.1 L664.0,1147.4 L665.0,1145.5 L666.0,1148.8 L667.0,1154.9 L668.0,1159.6 L669.0,1164.1 L670.0,1168.1 L671.0,1172.0 L672.0,1175.3 L673.0,1179.2 L674.0,1181.5 L675.0,1180.9 L676.0,1181.6 L677.0,1180.3 L678.0,1180.2 L679.0,1180.2 L680.0,1181.8 L681.0,1183.1 L682.0,1183.7 L683.0,1183.3 L684.0,1182.6 L685.0,1183.1 L686.0,1182.6 L687.0,1182.0 L688.0,1180.6 L689.0,1179.9 L690.0,1180.6 L691.0,1181.6 L692.0,1181.5 L693.0,1182.1 L694.0,1182.2 L695.0,1179.6 L696.0,1177.6 L697.0,1176.8 L698.0,1178.1 L699.0,1177.6 L700.0,1176.4 L701.0,1173.3 L702.0,1171.4 L703.0,1169.9 L704.0,1167.0 L705.0,1162.2 L706.0,1156.3 L707.0,1151.6 L708.0,1145.5 L709.0,1139.5 L709.8,1133.5 L710.0,1132.2 L710.2,1131.4 L710.8,1124.1 L711.0,1122.3 L711.2,1120.6 L711.8,1112.4 L712.0,1111.1 L712.2,1109.0 L712.8,1102.4 L713.0,1100.6 L713.2,1099.6 L713.8,1093.5 L714.0,1092.6 L714.2,1091.1 L715.0,1083.7 L716.0,1076.0 L717.0,1071.7 L718.0,1070.7 L719.0,1076.6 L719.8,1081.7 L720.0,1083.1 L720.2,1084.3 L720.8,1089.4 L721.0,1091.1 L721.2,1092.9 L721.8,1098.4 L722.0,1099.0 L722.2,1100.1 L722.8,1106.6 L723.0,1107.4 L723.2,1110.0 L723.8,1116.0 L724.0,1117.3 L724.2,1120.0 L724.8,1128.1 L725.0,1129.0 L725.2,1131.7 L726.0,1138.9 L727.0,1145.9 L728.0,1150.3 L729.0,1154.7 L730.0,1160.8 L731.0,1165.9 L732.0,1170.9 L733.0,1175.1 L734.0,1178.3 L735.0,1179.4 L736.0,1179.7 L737.0,1179.8 L738.0,1180.0 L739.0,1180.5 L740.0,1180.4 L741.0,1181.8 L742.0,1182.2 L743.0,1183.2 L744.0,1182.7 L745.0,1182.7 L746.0,1183.4 L747.0,1183.3 L748.0,1184.0 L749.0,1184.1 L750.0,1184.5 L751.0,1183.5 L752.0,1182.7 L753.0,1183.3 L754.0,1183.8 L755.0,1183.3 L756.0,1182.8 L757.0,1181.4 L758.0,1180.0 L759.0,1178.7 L760.0,1178.7 L761.0,1177.8 L762.0,1176.8 L763.0,1176.0 L764.0,1173.8 L765.0,1174.2 L766.0,1173.7 L767.0,1173.1 L768.0,1172.0 L769.0,1170.0 L770.0,1168.3 L771.0,1165.7 L772.0,1163.2 L773.0,1160.7 L774.0,1157.8 L775.0,1155.3 L776.0,1152.6 L777.0,1147.7 L778.0,1142.1 L778.8,1136.9 L779.0,1135.3 L779.2,1133.9 L779.8,1127.2 L780.0,1124.5 L780.2,1120.2 L780.7,1113.6 L780.9,1109.6 L781.0,1108.8 L781.1,1106.4 L781.3,1103.6 L781.7,1095.7 L781.9,1092.5 L782.0,1091.3 L782.1,1088.9 L782.3,1085.8 L782.8,1078.6 L783.0,1074.5 L783.2,1071.9 L783.8,1065.0 L784.0,1061.0 L784.2,1058.1 L784.8,1050.1 L785.0,1048.1 L785.2,1046.6 L786.0,1039.0 L787.0,1034.4 L788.0,1029.1 L789.0,1028.3 L790.0,1029.2 L791.0,1031.5 L792.0,1035.6 L793.0,1040.1 L794.0,1043.7 L795.0,1050.3 L796.0,1057.1 L797.0,1062.1 L798.0,1065.6 L799.0,1067.1 L800.0,1068.5 L801.0,1067.7 L802.0,1067.2 L803.0,1066.0 L804.0,1064.0 L805.0,1062.5 L806.0,1059.5 L807.0,1056.6 L808.0,1053.2 L809.0,1049.4 L810.0,1043.3 L810.8,1036.8 L811.0,1035.1 L811.2,1034.1 L811.8,1027.8 L812.0,1026.3 L812.2,1024.3 L812.8,1018.0 L813.0,1015.9 L813.2,1013.1 L813.7,1006.8 L813.9,1003.9 L814.0,1002.6 L814.1,1000.4 L814.3,996.7 L814.7,989.2 L814.8,986.1 L815.0,982.1 L815.2,978.3 L815.3,974.4 L815.6,967.6 L815.8,963.8 L815.9,960.0 L816.0,959.1 L816.1,956.9 L816.2,953.8 L816.4,950.4 L816.6,943.3 L816.8,939.4 L816.9,934.9 L817.0,930.9 L817.1,926.4 L817.2,923.0 L817.4,918.3 L817.6,909.8 L817.8,904.9 L817.9,900.1 L818.0,897.1 L818.1,892.5 L818.2,888.6 L818.4,884.8 L818.7,876.3 L818.9,871.8 L819.0,869.2 L819.1,868.4 L819.3,864.6 L819.7,858.0 L819.9,855.5 L820.0,853.6 L820.1,851.7 L820.3,848.2 L820.8,842.6 L821.0,839.7 L821.2,836.8 L822.0,830.3 L823.0,829.5 L823.8,835.1 L824.0,837.3 L824.2,839.5 L824.7,847.1 L824.9,849.8 L825.0,851.7 L825.1,853.6 L825.3,856.8 L825.6,863.3 L825.8,866.8 L825.9,869.0 L826.0,870.6 L826.1,871.8 L826.2,876.1 L826.4,880.9 L826.6,890.8 L826.6,894.5 L826.7,898.1 L826.8,901.4 L826.8,904.8 L826.9,908.3 L826.9,912.0 L827.0,916.0 L827.1,920.3 L827.1,923.9 L827.2,928.5 L827.2,932.0 L827.3,935.9 L827.4,940.4 L827.4,944.4 L827.6,953.4 L827.6,958.9 L827.7,963.1 L827.8,967.8 L827.9,972.6 L827.9,976.9 L828.0,980.6 L828.1,985.2 L828.1,988.8 L828.2,992.4 L828.3,996.0 L828.4,998.7 L828.4,1001.9 L828.7,1010.3 L828.8,1014.2 L829.0,1016.9 L829.2,1019.8 L829.3,1022.9 L829.8,1029.2 L830.0,1032.4 L830.2,1035.8 L830.8,1041.9 L831.0,1043.7 L831.2,1045.5 L831.8,1051.7 L832.0,1053.3 L832.2,1055.5 L833.0,1062.0 L834.0,1069.8 L835.0,1076.9 L835.8,1083.4 L836.0,1084.0 L836.2,1085.6 L836.8,1090.2 L837.0,1091.4 L837.2,1092.6 L838.0,1098.9 L839.0,1106.0 L840.0,1111.8 L841.0,1117.6 L842.0,1118.7 L843.0,1119.6 L844.0,1120.2 L845.0,1121.0 L846.0,1121.6 L847.0,1121.0 L848.0,1121.1 L849.0,1120.3 L850.0,1124.2 L851.0,1126.3 L852.0,1128.9 L853.0,1131.8 L854.0,1136.8 L855.0,1142.0 L856.0,1148.2 L857.0,1152.3 L858.0,1155.5 L859.0,1156.8 L860.0,1158.6 L861.0,1160.9 L862.0,1161.1 L863.0,1161.1 L864.0,1162.0 L865.0,1162.8 L866.0,1164.2 L867.0,1165.3 L868.0,1164.7 L869.0,1165.2 L870.0,1165.6 L871.0,1167.2 L872.0,1168.2 L873.0,1168.9 L874.0,1170.3 L875.0,1170.4 L876.0,1171.0 L877.0,1171.4 L878.0,1170.3 L879.0,1170.9 L880.0,1171.4 L881.0,1172.8 L882.0,1173.2 L883.0,1174.8 L884.0,1174.3 L885.0,1174.6 L886.0,1174.5 L887.0,1175.7 L888.0,1175.6 L889.0,1177.3 L890.0,1178.1 L891.0,1177.3 L892.0,1177.5 L893.0,1177.6 L894.0,1177.0 L895.0,1177.9 L896.0,1178.8 L897.0,1179.7 L898.0,1181.4 L899.0,1182.8 L900.0,1182.0 L901.0,1180.8 L902.0,1181.3 L903.0,1182.2 L904.0,1183.0 L905.0,1182.8 L906.0,1184.3 L907.0,1184.8 L908.0,1184.6 L909.0,1184.6 L910.0,1184.4 L911.0,1184.5 L912.0,1184.0 L913.0,1184.9 L914.0,1185.8 L915.0,1186.7 L916.0,1186.8 L917.0,1187.3 L918.0,1187.8 L919.0,1189.1 L920.0,1188.5 L921.0,1187.8 L922.0,1187.2 L923.0,1187.4 L924.0,1187.9 L925.0,1188.7 L926.0,1190.4 L927.0,1191.0 L928.0,1191.3 L929.0,1191.7 L930.0,1191.5 L931.0,1191.0 L932.0,1191.0 L933.0,1191.7 L934.0,1190.3 L935.0,1191.2 L936.0,1192.4 L937.0,1192.4 L938.0,1192.2 L939.0,1192.1 L940.0,1193.3 L941.0,1193.9 L942.0,1193.9 L943.0,1192.8 L944.0,1192.3 L945.0,1192.4 L946.0,1193.6 L947.0,1193.7 L948.0,1194.0 L949.0,1194.2 L950.0,1194.0 L951.0,1193.0 L952.0,1194.0 L953.0,1194.1 L954.0,1194.7 L955.0,1195.0 L956.0,1194.6 L957.0,1195.1 L958.0,1195.1 L959.0,1194.9 L960.0,1195.6 L961.0,1195.8 L962.0,1195.7 L963.0,1194.5 L964.0,1194.3 L965.0,1194.7 L966.0,1195.4 L967.0,1196.0 L968.0,1196.3 L969.0,1195.9 L970.0,1195.9 L971.0,1196.2 L972.0,1196.6 L973.0,1196.9 L974.0,1197.3 L975.0,1196.4 L976.0,1195.0 L977.0,1194.2 L978.0,1193.6 L979.0,1193.4 L980.0,1194.2 L981.0,1195.1 L982.0,1195.3 L983.0,1195.2 L984.0,1195.1 L985.0,1195.8 L986.0,1196.2 L987.0,1196.0 L988.0,1194.9 L989.0,1192.8 L990.0,1190.3 L991.0,1188.3 L992.0,1186.3 L993.0,1185.1 L994.0,1183.8 L995.0,1181.7 L996.0,1177.7 L997.0,1175.4 L998.0,1174.0 L999.0,1173.0 L1000.0,1176.2 L1001.0,1180.4 L1002.0,1182.9 L1003.0,1184.3 L1004.0,1185.6 L1005.0,1188.1 L1006.0,1191.5 L1007.0,1193.6 L1008.0,1194.4 L1009.0,1194.6 L1010.0,1195.4 L1011.0,1195.7 L1012.0,1195.8 L1013.0,1194.2 L1014.0,1194.6 L1015.0,1195.4 L1016.0,1195.5 L1017.0,1194.6 L1018.0,1193.5 L1019.0,1192.9 L1020.0,1192.3 L1021.0,1192.8 L1022.0,1193.7 L1023.0,1197.0 L1024.0,1200.4 L1025.0,1201.5 L1026.0,1204.5 L1027.0,1205.8 L1028.0,1206.4 L1029.0,1206.8 L1030.0,1206.7 L1031.0,1206.9 L1032.0,1205.9 L1033.0,1206.6 L1034.0,1206.7 L1035.0,1205.7 L1036.0,1205.2 L1037.0,1205.1 L1038.0,1205.6 L1039.0,1207.1 L1040.0,1206.6 L1041.0,1206.4 L1042.0,1206.8 L1043.0,1206.2 L1044.0,1206.2 L1045.0,1206.7 L1046.0,1205.8 L1047.0,1206.2 L1048.0,1207.0 L1049.0,1207.4 L1050.0,1207.8 L1051.0,1207.5 L1052.0,1208.3 L1053.0,1208.5 L1054.0,1208.6 L1055.0,1207.6 L1056.0,1207.2 L1057.0,1207.4 L1058.0,1207.6 L1059.0,1208.9 L1060.0,1209.8 L1061.0,1210.4 L1062.0,1210.6 L1063.0,1209.3 L1064.0,1207.4 L1065.0,1207.8 L1066.0,1207.5 L1067.0,1208.2 L1068.0,1208.0 L1069.0,1208.9 L1070.0,1208.5 L1071.0,1208.6 L1072.0,1207.9 L1073.0,1207.1 L1074.0,1207.7 L1075.0,1205.7 L1076.0,1204.9 L1077.0,1204.2 L1078.0,1204.7 L1079.0,1204.6 L1080.0,1201.1 L1081.0,1198.0 L1082.0,1193.8 L1083.0,1191.8 L1084.0,1189.0 L1085.0,1187.1 L1086.0,1184.8 L1087.0,1182.0 L1088.0,1179.2 L1089.0,1175.3 L1090.0,1174.8 L1091.0,1174.4 L1092.0,1176.9 L1093.0,1180.3 L1094.0,1185.7 L1095.0,1189.0 L1096.0,1192.8 L1097.0,1196.2 L1098.0,1199.3 L1099.0,1203.3 L1100.0,1205.9 L1101.0,1208.8 L1102.0,1210.5 L1103.0,1210.6 L1104.0,1211.4 L1105.0,1210.3 L1106.0,1210.3 L1107.0,1210.6 L1108.0,1211.2 L1109.0,1211.7 L1110.0,1211.5 L1111.0,1211.3 L1112.0,1211.6 L1113.0,1211.4 L1114.0,1211.4 L1115.0,1211.6 L1116.0,1212.5 L1117.0,1210.0 L1118.0,1209.0 L1119.0,1207.7 L1120.0,1205.8 L1121.0,1204.1 L1122.0,1203.7 L1123.0,1204.1 L1124.0,1205.0 L1125.0,1206.4 L1126.0,1209.3 L1127.0,1211.1 L1128.0,1213.0 L1129.0,1214.5 L1130.0,1215.8 L1131.0,1216.8 L1132.0,1218.0 L1133.0,1218.8 L1134.0,1218.7 L1135.0,1218.1 L1136.0,1218.4 L1137.0,1217.4 L1138.0,1218.7 L1139.0,1218.8 L1140.0,1218.2 L1141.0,1217.4 L1142.0,1218.4 L1143.0,1219.3 L1144.0,1221.2 L1145.0,1220.5 L1146.0,1220.8 L1147.0,1220.0 L1148.0,1219.8 L1149.0,1218.7 L1150.0,1218.6 L1151.0,1218.8 L1152.0,1218.6 L1153.0,1219.6 L1154.0,1220.3 L1155.0,1219.1 L1156.0,1217.8 L1157.0,1218.5 L1158.0,1218.8 L1159.0,1219.6 L1160.0,1219.4 L1161.0,1220.3 L1162.0,1220.4 L1163.0,1220.6 L1164.0,1221.0 L1165.0,1220.6 L1166.0,1220.2 L1167.0,1220.6 L1168.0,1221.5 L1169.0,1221.8 L1170.0,1221.2 L1171.0,1220.3 L1172.0,1219.5 L1173.0,1220.7 L1174.0,1221.9 L1175.0,1221.1 L1176.0,1220.9 L1177.0,1220.5 L1178.0,1220.5 L1179.0,1220.9 L1180.0,1221.1 L1181.0,1221.5 L1182.0,1220.8 L1183.0,1221.1 L1184.0,1220.0 L1185.0,1221.4 L1186.0,1223.6 L1187.0,1223.7 L1188.0,1221.9 L1189.0,1221.7 L1190.0,1222.8 L1191.0,1223.6 L1192.0,1224.1 L1193.0,1222.0 L1194.0,1220.9 L1195.0,1221.6 L1196.0,1222.6 L1197.0,1223.3 L1198.0,1221.8 L1199.0,1221.2 L1200.0,1221.2 L1201.0,1221.6 L1202.0,1221.8 L1203.0,1222.9 L1204.0,1223.2 L1205.0,1223.3 L1206.0,1223.8 L1207.0,1223.8 L1208.0,1222.6 L1209.0,1222.2 L1210.0,1223.9 L1211.0,1224.2 L1212.0,1224.6 L1213.0,1224.2 L1214.0,1222.8 L1215.0,1223.1 L1216.0,1223.5 L1217.0,1224.3 L1218.0,1224.5 L1219.0,1224.4 L1220.0,1224.6 L1221.0,1225.2 L1222.0,1224.6 L1223.0,1222.9 L1224.0,1222.3 L1225.0,1223.9 L1226.0,1225.6 L1227.0,1225.9 L1228.0,1225.3 L1229.0,1225.0 L1230.0,1224.1 L1231.0,1224.3 L1232.0,1223.8 L1233.0,1224.0 L1234.0,1223.2 L1235.0,1223.2 L1236.0,1222.7 L1237.0,1222.7 L1238.0,1223.4 L1239.0,1223.2 L1240.0,1224.4 L1241.0,1224.7 L1242.0,1225.4 L1243.0,1224.4 L1244.0,1224.4 L1245.0,1224.1 L1246.0,1224.1 L1247.0,1223.9 L1248.0,1224.1 L1249.0,1224.7 L1250.0,1225.4 L1251.0,1226.4 L1252.0,1226.5 L1253.0,1225.4 L1254.0,1224.4 L1255.0,1224.5 L1256.0,1224.1 L1257.0,1224.7 L1258.0,1225.7 L1259.0,1226.5 L1260.0,1225.6 L1261.0,1224.8 L1262.0,1224.9 L1263.0,1224.6 L1264.0,1224.7 L1265.0,1223.8 L1266.0,1223.5 L1267.0,1223.4 L1268.0,1222.4 L1269.0,1222.0 L1270.0,1222.6 L1271.0,1222.6 L1272.0,1222.4 L1273.0,1222.4 L1274.0,1222.1 L1275.0,1222.6 L1276.0,1222.4 L1277.0,1222.4 L1278.0,1222.2 L1279.0,1222.4 L1280.0,1222.2 L1281.0,1221.9 L1282.0,1221.2 L1283.0,1219.3 L1284.0,1216.9 L1285.0,1215.2 L1286.0,1213.0 L1287.0,1210.9 L1288.0,1208.7 L1289.0,1206.0 L1290.0,1203.2 L1291.0,1200.7 L1292.0,1197.8 L1293.0,1195.4 L1294.0,1193.2 L1295.0,1190.3 L1296.0,1188.5 L1297.0,1185.7 L1298.0,1185.7 L1299.0,1185.9 L1300.0,1187.0 L1301.0,1189.8 L1302.0,1192.8 L1303.0,1196.4 L1304.0,1200.1 L1305.0,1203.7 L1306.0,1208.5 L1307.0,1214.0 L1308.0,1218.8 L1309.0,1221.9 L1310.0,1223.0 L1311.0,1224.3 L1312.0,1224.7 L1313.0,1225.8 L1314.0,1226.2 L1315.0,1227.2 L1316.0,1229.4 L1317.0,1229.1 L1318.0,1229.4 L1319.0,1230.0 L1320.0,1229.4 L1321.0,1229.8 L1322.0,1230.0 L1323.0,1230.9 L1324.0,1231.9 L1325.0,1233.0 L1326.0,1234.2 L1327.0,1234.0 L1328.0,1233.0 L1329.0,1231.5 L1330.0,1231.5 L1331.0,1232.1 L1332.0,1231.2 L1333.0,1230.4 L1334.0,1230.2 L1335.0,1229.1 L1336.0,1228.0 L1337.0,1226.9 L1338.0,1225.3 L1339.0,1223.2 L1340.0,1224.7 L1341.0,1225.8 L1342.0,1226.8 L1343.0,1226.4 L1344.0,1227.0 L1345.0,1227.5 L1346.0,1227.8 L1347.0,1228.8 L1348.0,1229.1 L1349.0,1230.0 L1350.0,1230.8 L1351.0,1231.2 L1352.0,1230.7 L1353.0,1231.1 L1354.0,1231.2 L1355.0,1231.2 L1356.0,1231.5 L1357.0,1231.1 L1358.0,1232.4 L1359.0,1232.8 L1360.0,1232.2 L1361.0,1231.5 L1362.0,1231.2 L1363.0,1230.7 L1364.0,1230.9 L1365.0,1231.3 L1366.0,1232.1 L1367.0,1233.2 L1368.0,1233.0 L1369.0,1232.5 L1370.0,1233.0 L1371.0,1233.5 L1372.0,1233.6 L1373.0,1232.5 L1374.0,1231.5 L1375.0,1231.6 L1376.0,1233.1 L1377.0,1233.7 L1378.0,1233.4 L1379.0,1233.1 L1380.0,1233.5 L1381.0,1234.7 L1382.0,1234.2 L1383.0,1232.4 L1384.0,1230.7 L1385.0,1232.3 L1386.0,1232.1 L1387.0,1232.8 L1388.0,1232.8 L1389.0,1231.6 L1390.0,1231.3 L1391.0,1230.5 L1392.0,1230.6 L1393.0,1230.9 L1394.0,1231.7 L1395.0,1232.0 L1396.0,1232.5 L1397.0,1232.8 L1398.0,1231.6 L1399.0,1230.7 L1400.0,1231.4 L1401.0,1230.1 L1402.0,1230.4 L1403.0,1231.2 L1404.0,1231.4 L1405.0,1231.0 L1406.0,1231.9 L1407.0,1231.2 L1408.0,1231.1 L1409.0,1231.0 L1410.0,1229.9 L1411.0,1229.0 L1412.0,1229.0 L1413.0,1229.9 L1414.0,1229.5 L1415.0,1229.8 L1416.0,1229.4 L1417.0,1229.6 L1418.0,1228.3 L1419.0,1228.0 L1420.0,1227.5 L1421.0,1227.3 L1422.0,1227.4 L1423.0,1227.7 L1424.0,1227.8 L1425.0,1228.5 L1426.0,1227.9 L1427.0,1227.2 L1428.0,1225.9 L1429.0,1224.2 L1430.0,1223.5 L1431.0,1222.7 L1432.0,1221.9 L1433.0,1221.9 L1434.0,1221.9 L1435.0,1221.8 L1436.0,1220.6 L1437.0,1221.0 L1438.0,1220.3 L1439.0,1220.0 L1440.0,1219.9 L1441.0,1219.0 L1442.0,1218.0 L1443.0,1216.3 L1444.0,1213.3 L1445.0,1212.1 L1446.0,1210.9 L1447.0,1209.0 L1448.0,1208.1 L1449.0,1206.6 L1450.0,1204.4 L1451.0,1202.8 L1452.0,1202.3 L1453.0,1201.6 L1454.0,1200.3 L1455.0,1198.9 L1456.0,1197.4 L1457.0,1195.7 L1458.0,1195.7 L1459.0,1195.7 L1460.0,1192.7 L1461.0,1188.7 L1462.0,1186.1 L1463.0,1181.8 L1464.0,1177.7 L1465.0,1174.1 L1466.0,1173.1 L1467.0,1172.6 L1468.0,1175.4 L1469.0,1178.0 L1470.0,1180.9 L1471.0,1182.8 L1472.0,1186.9 L1473.0,1190.0 L1474.0,1194.0 L1475.0,1196.8 L1476.0,1201.0 L1477.0,1204.0 L1478.0,1206.1 L1479.0,1208.2 L1480.0,1208.6 L1481.0,1209.0 L1482.0,1209.1 L1483.0,1210.2 L1484.0,1210.0 L1485.0,1210.3 L1486.0,1210.6 L1487.0,1210.4 L1488.0,1211.5 L1489.0,1212.6 L1490.0,1213.2 L1491.0,1213.7 L1492.0,1214.7 L1493.0,1214.2 L1494.0,1215.0 L1495.0,1216.2 L1496.0,1217.1 L1497.0,1216.8 L1498.0,1216.9 L1499.0,1216.7 L1500.0,1217.0 L1501.0,1218.4 L1502.0,1218.1 L1503.0,1217.9 L1504.0,1218.7 L1505.0,1218.7 L1506.0,1218.9 L1507.0,1218.4 L1508.0,1217.8 L1509.0,1217.5 L1510.0,1218.4 L1511.0,1218.2 L1512.0,1218.5 L1513.0,1220.6 L1514.0,1221.4 L1515.0,1221.8 L1516.0,1222.0 L1517.0,1222.6 L1518.0,1221.4 L1519.0,1221.0 L1520.0,1220.4 L1521.0,1221.0 L1522.0,1220.7 L1523.0,1220.3 L1524.0,1219.8 L1525.0,1219.3 L1526.0,1220.0 L1527.0,1218.9 L1528.0,1218.8 L1529.0,1218.8 L1530.0,1218.9 L1531.0,1220.0 L1532.0,1220.1 L1533.0,1219.4 L1534.0,1219.8 L1535.0,1218.8 L1536.0,1218.6 L1537.0,1218.0 L1538.0,1217.7 L1539.0,1218.0 L1540.0,1218.5 L1541.0,1218.9 L1542.0,1219.4 L1543.0,1218.3 L1544.0,1218.6 L1545.0,1217.8 L1546.0,1218.4 L1547.0,1218.0 L1548.0,1219.2 L1549.0,1220.1 L1550.0,1220.1 L1551.0,1219.1 L1552.0,1218.9 L1553.0,1218.0 L1554.0,1219.0 L1555.0,1219.4 L1556.0,1220.1 L1557.0,1220.5 L1558.0,1219.8 L1559.0,1219.6 L1560.0,1219.3 L1561.0,1218.5 L1562.0,1217.9 L1563.0,1218.0 L1564.0,1217.7 L1565.0,1217.0 L1566.0,1215.8 L1567.0,1214.7 L1568.0,1214.9 L1569.0,1213.4 L1570.0,1212.4 L1571.0,1211.6 L1572.0,1210.4 L1573.0,1210.0 L1574.0,1210.3 L1575.0,1205.9 L1576.0,1201.2 L1577.0,1199.0 L1578.0,1197.3 L1579.0,1196.1 L1580.0,1193.3 L1581.0,1190.2 L1582.0,1187.4 L1583.0,1185.9 L1584.0,1184.7 L1585.0,1185.5 L1586.0,1187.1 L1587.0,1189.8 L1588.0,1192.4 L1589.0,1195.2 L1590.0,1198.0 L1591.0,1201.3 L1592.0,1205.6 L1593.0,1209.4 L1594.0,1212.6 L1595.0,1214.9 L1596.0,1214.8 L1597.0,1215.2 L1598.0,1214.0 L1599.0,1213.2 L1600.0,1210.8 L1601.0,1208.1 L1602.0,1206.7 L1603.0,1205.4 L1604.0,1204.6 L1605.0,1203.0 L1606.0,1202.3 L1607.0,1199.8 L1608.0,1198.8 L1609.0,1198.6 L1610.0,1201.0 L1611.0,1202.4 L1612.0,1205.3 L1613.0,1208.0 L1614.0,1209.9 L1615.0,1213.7 L1616.0,1216.5 L1617.0,1218.8 L1618.0,1221.2 L1619.0,1222.5 L1620.0,1223.0 L1621.0,1224.0 L1622.0,1224.6 L1623.0,1225.1 L1624.0,1225.7 L1625.0,1226.7 L1626.0,1228.2 L1627.0,1227.9 L1628.0,1227.8 L1629.0,1227.6 L1630.0,1228.5 L1631.0,1228.7 L1632.0,1229.8 L1633.0,1231.7 L1634.0,1233.0 L1635.0,1230.3 L1636.0,1229.1 L1637.0,1229.1 L1638.0,1230.5 L1639.0,1230.9 L1640.0,1232.2 L1641.0,1232.7 L1642.0,1233.6 L1643.0,1232.1 L1644.0,1231.1 L1645.0,1233.0 L1646.0,1235.5 L1647.0,1235.3 L1648.0,1232.6 L1649.0,1230.9 L1650.0,1232.3 L1651.0,1234.4 L1652.0,1235.3 L1653.0,1235.4 L1654.0,1235.8 L1655.0,1235.5 L1656.0,1235.9 L1657.0,1235.7 L1658.0,1234.9 L1659.0,1234.3 L1660.0,1235.3 L1661.0,1234.7 L1662.0,1234.7 L1663.0,1235.1 L1664.0,1234.6 L1665.0,1235.6 L1666.0,1236.0 L1667.0,1235.8 L1668.0,1235.2 L1669.0,1234.9 L1670.0,1234.9 L1671.0,1235.4 L1672.0,1235.7 L1673.0,1236.4 L1674.0,1237.7 L1675.0,1236.7 L1676.0,1235.3 L1677.0,1235.1 L1678.0,1235.7 L1679.0,1236.5 L1680.0,1236.2 L1681.0,1236.8 L1682.0,1236.0 L1683.0,1235.7 L1684.0,1235.6" fill="none" stroke="#ff0000" stroke-width="8.2" stroke-linejoin="round" stroke-linecap="butt"/>
<path d="M187.0,840.1 L188.0,842.4 L189.0,844.0 L190.0,845.7 L191.0,847.8 L192.0,849.5 L193.0,850.5 L194.0,851.0 L195.0,852.4 L196.0,853.5 L197.0,854.9 L198.0,856.5 L199.0,858.7 L200.0,859.7 L201.0,860.9 L202.0,862.8 L203.0,864.4 L204.0,866.3 L205.0,866.7 L206.0,868.7 L207.0,869.3 L208.0,870.0 L209.0,870.8 L210.0,873.0 L211.0,874.5 L212.0,875.4 L213.0,876.7 L214.0,878.4 L215.0,878.9 L216.0,880.3 L217.0,880.3 L218.0,881.6 L219.0,883.5 L220.0,885.5 L221.0,887.5 L222.0,888.6 L223.0,888.9 L224.0,888.0 L225.0,890.0 L226.0,891.7 L227.0,893.7 L228.0,894.5 L229.0,894.7 L230.0,895.9 L231.0,896.2 L232.0,897.6 L233.0,898.3 L234.0,899.0 L235.0,899.9 L236.0,900.3 L237.0,901.2 L238.0,903.0 L239.0,904.3 L240.0,904.7 L241.0,904.0 L242.0,904.4 L243.0,904.9 L244.0,906.4 L245.0,907.0 L246.0,907.4 L247.0,909.1 L248.0,910.7 L249.0,911.6 L250.0,912.8 L251.0,912.9 L252.0,912.9 L253.0,912.8 L254.0,913.3 L255.0,914.2 L256.0,915.2 L257.0,914.9 L258.0,915.5 L259.0,916.4 L260.0,916.5 L261.0,917.5 L262.0,917.8 L263.0,919.5 L264.0,919.7 L265.0,920.7 L266.0,921.9 L267.0,921.5 L268.0,920.0 L269.0,918.9 L270.0,920.0 L271.0,922.2 L272.0,922.4 L273.0,922.2 L274.0,922.9 L275.0,922.2 L276.0,922.1 L277.0,921.9 L278.0,921.8 L279.0,923.1 L280.0,922.5 L281.0,923.3 L282.0,922.7 L283.0,923.0 L284.0,924.1 L285.0,924.7 L286.0,925.1 L287.0,924.5 L288.0,924.2 L289.0,922.5 L290.0,924.2 L291.0,925.4 L292.0,926.0 L293.0,925.7 L294.0,924.6 L295.0,926.0 L296.0,926.9 L297.0,926.4 L298.0,926.2 L299.0,926.1 L300.0,926.4 L301.0,927.1 L302.0,926.5 L303.0,927.1 L304.0,926.8 L305.0,926.8 L306.0,926.6 L307.0,926.9 L308.0,926.3 L309.0,926.2 L310.0,925.5 L311.0,925.4 L312.0,925.1 L313.0,926.3 L314.0,925.7 L315.0,926.1 L316.0,926.6 L317.0,926.2 L318.0,927.5 L319.0,927.4 L320.0,925.9 L321.0,923.7 L322.0,923.3 L323.0,924.2 L324.0,924.9 L325.0,925.2 L326.0,926.6 L327.0,925.5 L328.0,924.1 L329.0,923.6 L330.0,923.9 L331.0,924.3 L332.0,925.1 L333.0,925.0 L334.0,926.5 L335.0,926.1 L336.0,925.2 L337.0,924.4 L338.0,922.1 L339.0,921.6 L340.0,923.2 L341.0,922.8 L342.0,923.4 L343.0,923.4 L344.0,923.1 L345.0,923.1 L346.0,921.5 L347.0,921.7 L348.0,921.6 L349.0,920.4 L350.0,920.5 L351.0,920.8 L352.0,920.1 L353.0,919.0 L354.0,917.2 L355.0,917.9 L356.0,917.9 L357.0,917.7 L358.0,918.0 L359.0,919.3 L360.0,917.6 L361.0,916.8 L362.0,917.1 L363.0,917.4 L364.0,917.8 L365.0,916.6 L366.0,915.6 L367.0,914.1 L368.0,912.4 L369.0,911.5 L370.0,912.3 L371.0,912.6 L372.0,913.4 L373.0,913.2 L374.0,912.6 L375.0,912.7 L376.0,913.0 L377.0,912.5 L378.0,911.5 L379.0,911.3 L380.0,910.1 L381.0,909.1 L382.0,909.7 L383.0,910.3 L384.0,911.0 L385.0,909.5 L386.0,908.2 L387.0,907.4 L388.0,907.9 L389.0,908.2 L390.0,907.0 L391.0,906.4 L392.0,904.7 L393.0,904.2 L394.0,904.0 L395.0,904.8 L396.0,904.9 L397.0,904.0 L398.0,901.4 L399.0,899.6 L400.0,900.0 L401.0,899.4 L402.0,900.1 L403.0,900.1 L404.0,900.0 L405.0,898.5 L406.0,898.1 L407.0,896.9 L408.0,897.7 L409.0,897.0 L410.0,895.6 L411.0,895.3 L412.0,894.2 L413.0,892.7 L414.0,892.7 L415.0,891.9 L416.0,892.6 L417.0,892.1 L418.0,889.0 L419.0,888.1 L420.0,886.9 L421.0,886.0 L422.0,884.5 L423.0,883.5 L424.0,881.7 L425.0,880.9 L426.0,880.2 L427.0,879.3 L428.0,879.8 L429.0,878.5 L430.0,877.6 L431.0,876.7 L432.0,875.6 L433.0,874.5 L434.0,873.1 L435.0,871.2 L436.0,869.7 L437.0,868.9 L438.0,868.6 L439.0,868.0 L440.0,865.5 L441.0,862.9 L442.0,863.1 L443.0,862.3 L444.0,861.7 L445.0,860.8 L446.0,859.4 L447.0,858.1 L448.0,856.9 L449.0,855.5 L450.0,854.6 L451.0,853.4 L452.0,852.4 L453.0,850.8 L454.0,848.5 L455.0,846.9 L456.0,844.4 L457.0,843.8 L458.0,843.2 L459.0,842.3 L460.0,839.9 L461.0,838.5 L462.0,836.2 L463.0,835.1 L464.0,833.2 L465.0,831.0 L466.0,828.0 L467.0,825.4 L468.0,823.8 L469.0,821.5 L470.0,819.0 L471.0,815.4 L472.0,812.0 L473.0,808.6 L474.0,804.3 L475.0,799.4 L476.0,793.8 L476.8,786.9 L477.0,785.2 L477.2,783.4 L477.7,775.9 L477.9,772.5 L478.0,770.8 L478.1,769.7 L478.3,765.2 L478.7,757.4 L478.9,753.4 L479.0,751.5 L479.1,749.7 L479.3,745.5 L479.7,737.5 L479.8,734.5 L480.0,730.0 L480.2,726.7 L480.3,722.8 L480.7,715.2 L480.9,711.5 L481.0,709.3 L481.1,707.3 L481.3,703.9 L481.8,697.2 L482.0,694.0 L482.2,689.9 L482.8,683.3 L483.0,681.3 L483.2,679.7 L483.8,672.4 L484.0,670.8 L484.2,668.6 L484.8,660.5 L485.0,657.8 L485.2,656.2 L485.8,648.4 L486.0,644.3 L486.2,640.6 L486.8,633.1 L487.0,630.6 L487.2,626.6 L487.7,621.0 L487.9,617.4 L488.0,615.3 L488.1,614.0 L488.3,609.8 L488.8,601.3 L489.0,597.5 L489.2,594.4 L489.8,593.6 L490.0,595.3 L490.2,597.0 L490.7,605.7 L490.8,608.9 L491.0,612.2 L491.2,616.0 L491.3,619.6 L491.7,626.3 L491.8,629.9 L492.0,632.4 L492.2,636.5 L492.3,639.4 L492.7,647.4 L492.8,651.4 L493.0,654.8 L493.2,658.8 L493.3,663.3 L493.7,671.5 L493.8,675.6 L494.0,679.5 L494.2,684.4 L494.3,687.2 L494.7,693.8 L494.9,698.2 L495.0,699.6 L495.1,701.0 L495.3,705.2 L495.6,712.1 L495.8,715.5 L495.9,718.7 L496.0,720.0 L496.1,722.4 L496.2,725.7 L496.4,729.0 L496.6,736.4 L496.8,740.6 L496.9,743.8 L497.0,747.7 L497.1,751.8 L497.2,755.6 L497.4,759.1 L497.6,767.2 L497.7,770.6 L497.8,773.9 L497.9,777.6 L498.0,780.8 L498.0,782.7 L498.0,785.0 L498.1,788.8 L498.2,794.4 L498.3,799.5 L498.4,804.2 L498.7,815.7 L498.8,819.3 L499.0,822.1 L499.2,825.6 L499.3,827.8 L499.8,833.8 L500.0,835.5 L500.2,837.8 L500.8,844.9 L501.0,847.9 L501.2,851.7 L501.8,859.1 L502.0,860.5 L502.2,862.4 L502.8,868.3 L503.0,869.6 L503.2,871.2 L504.0,877.3 L505.0,885.1 L506.0,891.5 L507.0,897.1 L508.0,901.9 L509.0,906.3 L510.0,909.2 L511.0,913.0 L512.0,916.4 L513.0,919.8 L514.0,923.0 L515.0,927.7 L516.0,932.0 L517.0,934.9 L518.0,937.6 L519.0,939.4 L520.0,942.0 L521.0,944.5 L522.0,947.1 L523.0,949.2 L524.0,951.8 L525.0,953.2 L526.0,954.8 L527.0,957.1 L528.0,960.9 L529.0,962.4 L530.0,964.9 L531.0,966.8 L532.0,967.9 L533.0,970.4 L534.0,972.3 L535.0,973.3 L536.0,975.0 L537.0,975.5 L538.0,975.9 L539.0,977.2 L540.0,978.6 L541.0,980.0 L542.0,981.7 L543.0,984.8 L544.0,985.6 L545.0,986.5 L546.0,987.1 L547.0,989.1 L548.0,991.6 L549.0,994.3 L550.0,993.8 L551.0,993.6 L552.0,994.2 L553.0,995.5 L554.0,997.1 L555.0,998.7 L556.0,1000.8 L557.0,1001.8 L558.0,1002.6 L559.0,1003.2 L560.0,1004.4 L561.0,1004.4 L562.0,1005.9 L563.0,1007.4 L564.0,1007.9 L565.0,1009.4 L566.0,1010.1 L567.0,1010.8 L568.0,1012.0 L569.0,1012.9 L570.0,1014.0 L571.0,1014.8 L572.0,1014.2 L573.0,1014.3 L574.0,1014.3 L575.0,1014.9 L576.0,1015.4 L577.0,1016.4 L578.0,1017.1 L579.0,1017.6 L580.0,1017.4 L581.0,1018.2 L582.0,1017.2 L583.0,1016.8 L584.0,1015.0 L585.0,1016.7 L586.0,1018.2 L587.0,1019.4 L588.0,1019.9 L589.0,1020.5 L590.0,1022.6 L591.0,1023.2 L592.0,1024.2 L593.0,1025.8 L594.0,1026.1 L595.0,1027.4 L596.0,1028.4 L597.0,1029.7 L598.0,1030.1 L599.0,1030.6 L600.0,1030.8 L601.0,1031.4 L602.0,1032.1 L603.0,1031.7 L604.0,1032.9 L605.0,1034.1 L606.0,1035.3 L607.0,1035.0 L608.0,1035.2 L609.0,1034.0 L610.0,1034.9 L611.0,1035.6 L612.0,1036.0 L613.0,1037.3 L614.0,1037.7 L615.0,1037.7 L616.0,1037.7 L617.0,1037.2 L618.0,1036.5 L619.0,1035.6 L620.0,1037.7 L621.0,1038.4 L622.0,1038.5 L623.0,1038.6 L624.0,1038.5 L625.0,1039.0 L626.0,1039.2 L627.0,1039.7 L628.0,1041.3 L629.0,1041.5 L630.0,1041.4 L631.0,1041.5 L632.0,1041.5 L633.0,1041.9 L634.0,1041.6 L635.0,1042.6 L636.0,1041.9 L637.0,1043.5 L638.0,1043.7 L639.0,1044.1 L640.0,1043.5 L641.0,1042.9 L642.0,1043.8 L643.0,1043.6 L644.0,1043.4 L645.0,1043.9 L646.0,1044.4 L647.0,1044.4 L648.0,1043.9 L649.0,1043.1 L650.0,1044.2 L651.0,1042.9 L652.0,1043.3 L653.0,1043.0 L654.0,1044.0 L655.0,1043.2 L656.0,1042.8 L657.0,1042.1 L658.0,1041.8 L659.0,1041.5 L660.0,1040.2 L661.0,1036.6 L662.0,1031.4 L663.0,1026.2 L664.0,1021.7 L665.0,1019.3 L666.0,1019.8 L667.0,1022.0 L668.0,1025.7 L669.0,1029.7 L670.0,1035.1 L671.0,1041.9 L672.0,1045.1 L673.0,1046.1 L674.0,1047.2 L675.0,1048.3 L676.0,1049.0 L677.0,1049.5 L678.0,1049.9 L679.0,1050.0 L680.0,1051.2 L681.0,1052.6 L682.0,1052.3 L683.0,1052.8 L684.0,1051.5 L685.0,1053.2 L686.0,1053.8 L687.0,1054.0 L688.0,1052.4 L689.0,1050.8 L690.0,1051.8 L691.0,1051.7 L692.0,1052.1 L693.0,1052.7 L694.0,1053.5 L695.0,1052.6 L696.0,1051.4 L697.0,1049.9 L698.0,1049.5 L699.0,1048.8 L700.0,1049.1 L701.0,1048.3 L702.0,1047.0 L703.0,1045.1 L704.0,1041.8 L705.0,1039.5 L706.0,1036.8 L707.0,1032.2 L708.0,1027.9 L709.0,1022.1 L710.0,1016.7 L710.8,1009.3 L711.0,1008.2 L711.2,1007.0 L711.8,999.6 L712.0,997.7 L712.2,996.6 L713.0,988.9 L714.0,981.4 L715.0,975.3 L716.0,969.6 L717.0,966.3 L718.0,966.0 L719.0,969.9 L720.0,975.1 L721.0,981.7 L722.0,989.5 L722.8,998.2 L723.0,1000.2 L723.2,1002.2 L723.8,1010.5 L724.0,1011.3 L724.2,1013.9 L724.8,1020.7 L725.0,1022.4 L725.2,1023.2 L726.0,1029.3 L727.0,1032.9 L728.0,1036.5 L729.0,1040.2 L730.0,1043.4 L731.0,1046.2 L732.0,1049.8 L733.0,1053.0 L734.0,1055.3 L735.0,1055.2 L736.0,1054.9 L737.0,1054.3 L738.0,1055.0 L739.0,1054.2 L740.0,1055.3 L741.0,1055.1 L742.0,1054.5 L743.0,1054.9 L744.0,1055.2 L745.0,1055.9 L746.0,1056.7 L747.0,1057.4 L748.0,1057.5 L749.0,1055.7 L750.0,1057.2 L751.0,1057.9 L752.0,1057.7 L753.0,1056.5 L754.0,1055.3 L755.0,1054.3 L756.0,1052.6 L757.0,1051.5 L758.0,1052.9 L759.0,1052.5 L760.0,1051.6 L761.0,1049.8 L762.0,1048.7 L763.0,1047.3 L764.0,1046.4 L765.0,1045.6 L766.0,1045.5 L767.0,1044.0 L768.0,1042.6 L769.0,1039.4 L770.0,1039.1 L771.0,1037.7 L772.0,1035.6 L773.0,1032.6 L774.0,1029.8 L775.0,1026.0 L776.0,1022.5 L777.0,1019.7 L778.0,1015.5 L779.0,1012.5 L780.0,1006.4 L781.0,1000.4 L781.8,993.4 L782.0,992.0 L782.2,990.1 L782.8,983.2 L783.0,981.5 L783.2,980.1 L783.8,973.1 L784.0,971.5 L784.2,969.4 L784.8,962.9 L785.0,961.1 L785.2,960.6 L785.8,955.2 L786.0,953.4 L786.2,952.4 L787.0,945.8 L788.0,938.7 L789.0,935.5 L790.0,936.3 L791.0,938.7 L792.0,943.1 L793.0,947.2 L794.0,950.8 L795.0,952.7 L796.0,955.4 L797.0,958.0 L798.0,960.9 L799.0,962.8 L800.0,962.8 L801.0,962.1 L802.0,961.4 L803.0,961.1 L804.0,960.6 L805.0,958.8 L806.0,957.3 L807.0,954.4 L808.0,954.0 L809.0,951.0 L809.8,945.7 L810.0,943.6 L810.2,942.6 L810.8,936.3 L811.0,934.1 L811.2,931.8 L811.8,925.3 L812.0,921.8 L812.2,919.0 L812.8,911.6 L813.0,908.9 L813.2,904.8 L813.8,897.2 L814.0,893.6 L814.2,889.9 L814.7,883.5 L814.8,880.6 L815.0,876.7 L815.2,873.4 L815.3,869.1 L815.6,862.2 L815.8,859.4 L815.9,854.7 L816.0,853.8 L816.1,852.0 L816.2,847.4 L816.4,844.0 L816.7,836.6 L816.8,833.3 L817.0,828.9 L817.2,825.2 L817.3,821.9 L817.7,814.5 L817.9,811.1 L818.0,809.4 L818.1,808.3 L818.3,804.6 L818.8,798.3 L819.0,793.6 L819.2,789.6 L819.8,782.7 L820.0,779.1 L820.2,774.9 L820.8,768.8 L821.0,766.5 L821.2,765.1 L822.0,759.8 L823.0,758.6 L823.8,764.3 L824.0,765.6 L824.2,768.2 L824.8,775.1 L825.0,778.4 L825.2,782.2 L825.8,790.2 L826.0,794.7 L826.2,798.7 L826.8,807.1 L827.0,810.8 L827.2,814.8 L827.7,822.5 L827.9,826.0 L828.0,828.0 L828.1,830.1 L828.3,834.0 L828.7,841.0 L828.8,844.1 L829.0,848.0 L829.2,851.9 L829.3,854.6 L829.7,862.6 L829.8,866.7 L830.0,870.3 L830.2,874.0 L830.3,879.0 L830.6,886.0 L830.8,888.6 L830.9,892.3 L831.0,895.7 L831.1,898.7 L831.2,904.1 L831.4,907.4 L831.6,916.2 L831.7,919.9 L831.8,924.2 L831.9,927.7 L832.0,932.0 L832.1,936.1 L832.2,939.5 L832.3,942.8 L832.4,946.7 L832.8,955.1 L833.0,959.4 L833.2,961.3 L833.8,966.5 L834.0,967.7 L834.2,969.3 L835.0,976.5 L836.0,983.7 L837.0,989.8 L838.0,994.9 L839.0,998.4 L840.0,1000.0 L841.0,1001.4 L842.0,1002.6 L843.0,1004.4 L844.0,1005.8 L845.0,1006.2 L846.0,1006.2 L847.0,1006.7 L848.0,1006.6 L849.0,1006.4 L850.0,1007.5 L851.0,1007.3 L852.0,1008.0 L853.0,1008.8 L854.0,1010.5 L855.0,1012.6 L856.0,1017.2 L857.0,1021.7 L858.0,1026.3 L859.0,1030.3 L860.0,1033.8 L861.0,1035.7 L862.0,1037.4 L863.0,1039.1 L864.0,1039.8 L865.0,1040.7 L866.0,1041.4 L867.0,1042.4 L868.0,1043.4 L869.0,1044.2 L870.0,1046.1 L871.0,1045.7 L872.0,1046.6 L873.0,1046.4 L874.0,1045.9 L875.0,1046.4 L876.0,1047.5 L877.0,1048.0 L878.0,1048.2 L879.0,1048.9 L880.0,1049.4 L881.0,1049.9 L882.0,1050.7 L883.0,1050.4 L884.0,1051.1 L885.0,1051.0 L886.0,1051.6 L887.0,1051.6 L888.0,1051.7 L889.0,1051.2 L890.0,1052.2 L891.0,1053.1 L892.0,1054.0 L893.0,1054.2 L894.0,1054.4 L895.0,1053.4 L896.0,1053.0 L897.0,1052.7 L898.0,1053.6 L899.0,1055.1 L900.0,1055.0 L901.0,1054.5 L902.0,1055.2 L903.0,1057.5 L904.0,1058.7 L905.0,1057.8 L906.0,1058.5 L907.0,1057.7 L908.0,1057.9 L909.0,1058.6 L910.0,1058.6 L911.0,1059.9 L912.0,1059.1 L913.0,1059.3 L914.0,1059.8 L915.0,1059.9 L916.0,1060.8 L917.0,1060.4 L918.0,1061.5 L919.0,1062.7 L920.0,1062.3 L921.0,1062.0 L922.0,1061.7 L923.0,1062.7 L924.0,1062.1 L925.0,1062.6 L926.0,1063.0 L927.0,1062.3 L928.0,1061.5 L929.0,1060.6 L930.0,1061.8 L931.0,1062.9 L932.0,1063.5 L933.0,1062.8 L934.0,1063.1 L935.0,1062.7 L936.0,1064.1 L937.0,1063.8 L938.0,1062.9 L939.0,1061.9 L940.0,1062.7 L941.0,1064.2 L942.0,1064.4 L943.0,1064.6 L944.0,1064.3 L945.0,1064.7 L946.0,1063.9 L947.0,1064.9 L948.0,1065.8 L949.0,1067.7 L950.0,1067.5 L951.0,1066.7 L952.0,1066.3 L953.0,1066.6 L954.0,1066.1 L955.0,1066.9 L956.0,1065.9 L957.0,1067.2 L958.0,1067.6 L959.0,1067.2 L960.0,1067.4 L961.0,1068.2 L962.0,1067.5 L963.0,1067.4 L964.0,1067.5 L965.0,1067.5 L966.0,1068.1 L967.0,1067.8 L968.0,1068.3 L969.0,1068.7 L970.0,1067.2 L971.0,1065.2 L972.0,1065.7 L973.0,1065.9 L974.0,1065.9 L975.0,1066.4 L976.0,1065.2 L977.0,1066.5 L978.0,1066.1 L979.0,1067.3 L980.0,1067.4 L981.0,1067.6 L982.0,1068.1 L983.0,1067.9 L984.0,1067.6 L985.0,1067.0 L986.0,1065.4 L987.0,1065.2 L988.0,1064.8 L989.0,1063.8 L990.0,1063.1 L991.0,1062.5 L992.0,1062.0 L993.0,1060.4 L994.0,1058.2 L995.0,1057.1 L996.0,1057.0 L997.0,1055.2 L998.0,1055.1 L999.0,1054.4 L1000.0,1053.1 L1001.0,1053.3 L1002.0,1054.4 L1003.0,1057.4 L1004.0,1060.3 L1005.0,1060.6 L1006.0,1062.3 L1007.0,1064.0 L1008.0,1065.3 L1009.0,1066.5 L1010.0,1067.2 L1011.0,1065.8 L1012.0,1065.7 L1013.0,1065.7 L1014.0,1065.8 L1015.0,1065.7 L1016.0,1066.3 L1017.0,1066.6 L1018.0,1066.5 L1019.0,1066.5 L1020.0,1066.9 L1021.0,1066.4 L1022.0,1066.9 L1023.0,1068.2 L1024.0,1069.4 L1025.0,1070.5 L1026.0,1071.9 L1027.0,1073.9 L1028.0,1073.7 L1029.0,1075.0 L1030.0,1075.6 L1031.0,1074.9 L1032.0,1074.1 L1033.0,1074.3 L1034.0,1075.4 L1035.0,1076.4 L1036.0,1077.5 L1037.0,1078.1 L1038.0,1077.1 L1039.0,1075.9 L1040.0,1077.7 L1041.0,1078.1 L1042.0,1078.5 L1043.0,1078.7 L1044.0,1079.4 L1045.0,1078.3 L1046.0,1077.9 L1047.0,1077.3 L1048.0,1078.0 L1049.0,1077.8 L1050.0,1078.0 L1051.0,1077.8 L1052.0,1078.1 L1053.0,1078.3 L1054.0,1078.8 L1055.0,1077.4 L1056.0,1077.5 L1057.0,1078.1 L1058.0,1078.4 L1059.0,1078.3 L1060.0,1079.1 L1061.0,1079.1 L1062.0,1079.5 L1063.0,1079.3 L1064.0,1078.9 L1065.0,1078.4 L1066.0,1078.4 L1067.0,1078.5 L1068.0,1078.4 L1069.0,1078.0 L1070.0,1077.0 L1071.0,1076.7 L1072.0,1077.1 L1073.0,1077.6 L1074.0,1078.4 L1075.0,1077.0 L1076.0,1074.9 L1077.0,1074.3 L1078.0,1074.2 L1079.0,1073.4 L1080.0,1071.9 L1081.0,1069.7 L1082.0,1066.8 L1083.0,1063.4 L1084.0,1060.3 L1085.0,1059.5 L1086.0,1057.2 L1087.0,1055.7 L1088.0,1053.6 L1089.0,1052.6 L1090.0,1050.0 L1091.0,1048.4 L1092.0,1049.2 L1093.0,1051.0 L1094.0,1053.7 L1095.0,1056.6 L1096.0,1058.8 L1097.0,1062.1 L1098.0,1065.2 L1099.0,1068.4 L1100.0,1070.9 L1101.0,1073.4 L1102.0,1076.6 L1103.0,1078.7 L1104.0,1080.2 L1105.0,1080.7 L1106.0,1081.0 L1107.0,1081.0 L1108.0,1081.1 L1109.0,1080.9 L1110.0,1080.8 L1111.0,1081.4 L1112.0,1081.8 L1113.0,1080.7 L1114.0,1080.6 L1115.0,1079.5 L1116.0,1079.2 L1117.0,1078.2 L1118.0,1077.7 L1119.0,1076.9 L1120.0,1076.5 L1121.0,1076.2 L1122.0,1075.0 L1123.0,1074.3 L1124.0,1074.6 L1125.0,1076.4 L1126.0,1079.6 L1127.0,1081.9 L1128.0,1082.6 L1129.0,1083.7 L1130.0,1085.5 L1131.0,1086.4 L1132.0,1086.5 L1133.0,1086.3 L1134.0,1085.9 L1135.0,1086.1 L1136.0,1086.7 L1137.0,1087.5 L1138.0,1087.9 L1139.0,1088.2 L1140.0,1087.3 L1141.0,1087.8 L1142.0,1087.7 L1143.0,1087.7 L1144.0,1088.1 L1145.0,1087.3 L1146.0,1086.7 L1147.0,1086.1 L1148.0,1088.3 L1149.0,1089.6 L1150.0,1088.5 L1151.0,1088.0 L1152.0,1087.1 L1153.0,1086.1 L1154.0,1086.0 L1155.0,1086.7 L1156.0,1086.8 L1157.0,1087.9 L1158.0,1087.8 L1159.0,1088.0 L1160.0,1088.7 L1161.0,1089.8 L1162.0,1089.3 L1163.0,1088.6 L1164.0,1088.7 L1165.0,1088.6 L1166.0,1089.2 L1167.0,1088.9 L1168.0,1089.3 L1169.0,1088.5 L1170.0,1090.0 L1171.0,1091.4 L1172.0,1091.7 L1173.0,1090.8 L1174.0,1090.1 L1175.0,1091.2 L1176.0,1091.8 L1177.0,1092.0 L1178.0,1090.0 L1179.0,1088.8 L1180.0,1089.4 L1181.0,1091.0 L1182.0,1090.2 L1183.0,1090.2 L1184.0,1089.8 L1185.0,1090.0 L1186.0,1091.0 L1187.0,1090.5 L1188.0,1091.2 L1189.0,1090.9 L1190.0,1090.6 L1191.0,1089.6 L1192.0,1089.0 L1193.0,1089.9 L1194.0,1089.9 L1195.0,1089.7 L1196.0,1089.8 L1197.0,1089.5 L1198.0,1089.8 L1199.0,1090.5 L1200.0,1090.0 L1201.0,1090.8 L1202.0,1090.6 L1203.0,1091.0 L1204.0,1090.9 L1205.0,1090.5 L1206.0,1089.9 L1207.0,1090.6 L1208.0,1091.9 L1209.0,1092.2 L1210.0,1092.7 L1211.0,1092.6 L1212.0,1091.9 L1213.0,1091.9 L1214.0,1091.1 L1215.0,1091.2 L1216.0,1091.7 L1217.0,1092.2 L1218.0,1092.2 L1219.0,1092.8 L1220.0,1092.6 L1221.0,1091.8 L1222.0,1092.4 L1223.0,1092.1 L1224.0,1091.9 L1225.0,1093.0 L1226.0,1093.4 L1227.0,1094.2 L1228.0,1094.4 L1229.0,1094.1 L1230.0,1093.6 L1231.0,1093.8 L1232.0,1094.2 L1233.0,1093.4 L1234.0,1092.9 L1235.0,1094.1 L1236.0,1095.3 L1237.0,1095.7 L1238.0,1095.8 L1239.0,1095.2 L1240.0,1094.5 L1241.0,1093.6 L1242.0,1093.2 L1243.0,1092.7 L1244.0,1093.5 L1245.0,1093.7 L1246.0,1095.2 L1247.0,1095.1 L1248.0,1094.2 L1249.0,1093.1 L1250.0,1093.2 L1251.0,1094.2 L1252.0,1094.0 L1253.0,1094.1 L1254.0,1093.4 L1255.0,1093.2 L1256.0,1093.2 L1257.0,1093.6 L1258.0,1093.2 L1259.0,1094.1 L1260.0,1093.7 L1261.0,1091.8 L1262.0,1092.1 L1263.0,1092.2 L1264.0,1092.9 L1265.0,1092.1 L1266.0,1091.6 L1267.0,1092.5 L1268.0,1094.4 L1269.0,1096.0 L1270.0,1095.5 L1271.0,1095.2 L1272.0,1094.9 L1273.0,1094.9 L1274.0,1094.6 L1275.0,1094.3 L1276.0,1093.2 L1277.0,1093.8 L1278.0,1094.4 L1279.0,1094.1 L1280.0,1093.6 L1281.0,1094.6 L1282.0,1094.0 L1283.0,1092.9 L1284.0,1093.6 L1285.0,1093.2 L1286.0,1091.6 L1287.0,1089.3 L1288.0,1085.8 L1289.0,1082.0 L1290.0,1079.0 L1291.0,1077.2 L1292.0,1075.3 L1293.0,1072.7 L1294.0,1069.0 L1295.0,1066.0 L1296.0,1063.3 L1297.0,1060.0 L1298.0,1058.2 L1299.0,1057.8 L1300.0,1058.7 L1301.0,1060.4 L1302.0,1062.4 L1303.0,1066.3 L1304.0,1069.3 L1305.0,1072.2 L1306.0,1074.0 L1307.0,1077.9 L1308.0,1083.7 L1309.0,1089.1 L1310.0,1092.9 L1311.0,1094.7 L1312.0,1094.6 L1313.0,1094.7 L1314.0,1093.8 L1315.0,1094.8 L1316.0,1095.0 L1317.0,1095.0 L1318.0,1095.9 L1319.0,1096.2 L1320.0,1097.0 L1321.0,1097.9 L1322.0,1098.4 L1323.0,1097.5 L1324.0,1097.2 L1325.0,1096.5 L1326.0,1096.7 L1327.0,1097.3 L1328.0,1097.8 L1329.0,1098.3 L1330.0,1096.9 L1331.0,1095.7 L1332.0,1095.9 L1333.0,1096.4 L1334.0,1097.4 L1335.0,1098.4 L1336.0,1098.2 L1337.0,1099.0 L1338.0,1097.4 L1339.0,1097.5 L1340.0,1097.0 L1341.0,1094.9 L1342.0,1092.4 L1343.0,1093.1 L1344.0,1094.0 L1345.0,1095.3 L1346.0,1096.9 L1347.0,1098.4 L1348.0,1098.7 L1349.0,1099.9 L1350.0,1099.6 L1351.0,1099.1 L1352.0,1099.7 L1353.0,1098.6 L1354.0,1099.3 L1355.0,1099.0 L1356.0,1099.5 L1357.0,1099.8 L1358.0,1101.7 L1359.0,1101.1 L1360.0,1101.7 L1361.0,1101.7 L1362.0,1100.9 L1363.0,1100.6 L1364.0,1100.5 L1365.0,1099.4 L1366.0,1098.9 L1367.0,1098.7 L1368.0,1098.0 L1369.0,1098.2 L1370.0,1098.7 L1371.0,1099.0 L1372.0,1098.9 L1373.0,1099.8 L1374.0,1100.5 L1375.0,1100.0 L1376.0,1099.8 L1377.0,1099.2 L1378.0,1099.0 L1379.0,1098.3 L1380.0,1098.1 L1381.0,1098.2 L1382.0,1097.7 L1383.0,1099.0 L1384.0,1099.4 L1385.0,1099.1 L1386.0,1099.3 L1387.0,1098.6 L1388.0,1098.4 L1389.0,1098.2 L1390.0,1098.5 L1391.0,1099.5 L1392.0,1098.2 L1393.0,1099.6 L1394.0,1100.2 L1395.0,1099.7 L1396.0,1098.4 L1397.0,1097.7 L1398.0,1099.8 L1399.0,1099.7 L1400.0,1099.8 L1401.0,1099.2 L1402.0,1098.9 L1403.0,1098.5 L1404.0,1098.4 L1405.0,1098.7 L1406.0,1098.6 L1407.0,1098.8 L1408.0,1098.0 L1409.0,1097.7 L1410.0,1097.3 L1411.0,1097.1 L1412.0,1096.6 L1413.0,1096.9 L1414.0,1097.2 L1415.0,1096.8 L1416.0,1096.1 L1417.0,1097.0 L1418.0,1096.8 L1419.0,1097.7 L1420.0,1097.1 L1421.0,1097.1 L1422.0,1095.8 L1423.0,1097.3 L1424.0,1096.6 L1425.0,1096.2 L1426.0,1096.5 L1427.0,1096.2 L1428.0,1093.7 L1429.0,1091.1 L1430.0,1092.6 L1431.0,1094.5 L1432.0,1093.6 L1433.0,1092.8 L1434.0,1091.4 L1435.0,1092.6 L1436.0,1092.0 L1437.0,1091.9 L1438.0,1090.0 L1439.0,1088.5 L1440.0,1088.6 L1441.0,1087.8 L1442.0,1086.5 L1443.0,1086.8 L1444.0,1086.3 L1445.0,1083.6 L1446.0,1081.6 L1447.0,1080.5 L1448.0,1080.3 L1449.0,1080.4 L1450.0,1079.5 L1451.0,1078.9 L1452.0,1077.4 L1453.0,1076.3 L1454.0,1074.2 L1455.0,1074.9 L1456.0,1074.9 L1457.0,1073.8 L1458.0,1072.4 L1459.0,1070.2 L1460.0,1067.3 L1461.0,1063.9 L1462.0,1062.8 L1463.0,1060.8 L1464.0,1059.0 L1465.0,1059.2 L1466.0,1060.0 L1467.0,1059.8 L1468.0,1057.9 L1469.0,1056.9 L1470.0,1057.8 L1471.0,1059.2 L1472.0,1061.4 L1473.0,1064.5 L1474.0,1066.9 L1475.0,1070.8 L1476.0,1074.1 L1477.0,1076.8 L1478.0,1079.1 L1479.0,1080.1 L1480.0,1080.3 L1481.0,1081.3 L1482.0,1082.5 L1483.0,1082.3 L1484.0,1082.5 L1485.0,1083.3 L1486.0,1084.5 L1487.0,1085.3 L1488.0,1084.8 L1489.0,1084.5 L1490.0,1084.8 L1491.0,1085.0 L1492.0,1084.6 L1493.0,1085.8 L1494.0,1086.1 L1495.0,1086.1 L1496.0,1086.8 L1497.0,1087.4 L1498.0,1088.4 L1499.0,1089.2 L1500.0,1088.7 L1501.0,1088.8 L1502.0,1089.6 L1503.0,1089.2 L1504.0,1089.2 L1505.0,1089.6 L1506.0,1090.5 L1507.0,1089.9 L1508.0,1091.0 L1509.0,1090.7 L1510.0,1092.2 L1511.0,1093.4 L1512.0,1092.6 L1513.0,1092.1 L1514.0,1090.9 L1515.0,1091.4 L1516.0,1092.1 L1517.0,1092.1 L1518.0,1092.3 L1519.0,1092.9 L1520.0,1092.1 L1521.0,1090.7 L1522.0,1090.1 L1523.0,1091.6 L1524.0,1091.4 L1525.0,1090.9 L1526.0,1090.1 L1527.0,1089.7 L1528.0,1089.4 L1529.0,1088.4 L1530.0,1089.4 L1531.0,1089.1 L1532.0,1089.2 L1533.0,1088.8 L1534.0,1088.9 L1535.0,1088.8 L1536.0,1089.2 L1537.0,1088.8 L1538.0,1088.4 L1539.0,1088.3 L1540.0,1088.7 L1541.0,1089.7 L1542.0,1090.1 L1543.0,1091.3 L1544.0,1093.0 L1545.0,1092.4 L1546.0,1090.7 L1547.0,1090.9 L1548.0,1091.7 L1549.0,1092.8 L1550.0,1093.3 L1551.0,1093.4 L1552.0,1093.6 L1553.0,1093.7 L1554.0,1093.3 L1555.0,1093.4 L1556.0,1093.6 L1557.0,1093.0 L1558.0,1092.7 L1559.0,1092.7 L1560.0,1092.1 L1561.0,1092.5 L1562.0,1091.9 L1563.0,1092.4 L1564.0,1092.2 L1565.0,1091.1 L1566.0,1090.7 L1567.0,1089.7 L1568.0,1089.6 L1569.0,1089.2 L1570.0,1088.0 L1571.0,1087.4 L1572.0,1085.3 L1573.0,1083.8 L1574.0,1081.6 L1575.0,1080.4 L1576.0,1078.9 L1577.0,1076.5 L1578.0,1073.5 L1579.0,1070.9 L1580.0,1070.1 L1581.0,1068.4 L1582.0,1066.9 L1583.0,1065.5 L1584.0,1065.8 L1585.0,1065.5 L1586.0,1066.1 L1587.0,1067.7 L1588.0,1069.1 L1589.0,1071.3 L1590.0,1072.5 L1591.0,1073.7 L1592.0,1076.1 L1593.0,1080.1 L1594.0,1084.4 L1595.0,1085.9 L1596.0,1085.9 L1597.0,1087.2 L1598.0,1087.7 L1599.0,1086.4 L1600.0,1086.0 L1601.0,1084.7 L1602.0,1083.6 L1603.0,1080.2 L1604.0,1077.0 L1605.0,1076.2 L1606.0,1076.2 L1607.0,1074.2 L1608.0,1073.2 L1609.0,1073.9 L1610.0,1075.2 L1611.0,1077.8 L1612.0,1079.0 L1613.0,1080.8 L1614.0,1083.0 L1615.0,1086.2 L1616.0,1089.1 L1617.0,1091.6 L1618.0,1092.1 L1619.0,1093.0 L1620.0,1094.6 L1621.0,1096.1 L1622.0,1096.9 L1623.0,1097.2 L1624.0,1097.5 L1625.0,1097.4 L1626.0,1096.6 L1627.0,1097.2 L1628.0,1096.9 L1629.0,1098.2 L1630.0,1097.6 L1631.0,1098.2 L1632.0,1098.2 L1633.0,1098.1 L1634.0,1097.7 L1635.0,1098.0 L1636.0,1098.4 L1637.0,1098.7 L1638.0,1099.7 L1639.0,1100.2 L1640.0,1100.2 L1641.0,1100.7 L1642.0,1100.1 L1643.0,1099.5 L1644.0,1099.0 L1645.0,1099.6 L1646.0,1100.4 L1647.0,1100.6 L1648.0,1101.8 L1649.0,1102.5 L1650.0,1101.7 L1651.0,1100.6 L1652.0,1100.0 L1653.0,1100.6 L1654.0,1101.1 L1655.0,1102.5 L1656.0,1103.4 L1657.0,1103.9 L1658.0,1104.5 L1659.0,1103.8 L1660.0,1103.1 L1661.0,1101.9 L1662.0,1100.6 L1663.0,1101.4 L1664.0,1101.3 L1665.0,1102.0 L1666.0,1102.6 L1667.0,1102.7 L1668.0,1102.8 L1669.0,1101.9 L1670.0,1102.6 L1671.0,1102.6 L1672.0,1103.1 L1673.0,1103.0 L1674.0,1102.6 L1675.0,1103.0 L1676.0,1104.2 L1677.0,1103.7 L1678.0,1102.0 L1679.0,1100.9 L1680.0,1101.3 L1681.0,1101.9 L1682.0,1101.3 L1683.0,1102.2 L1684.0,1103.1" fill="none" stroke="#0000ff" stroke-width="8.2" stroke-linejoin="round" stroke-linecap="butt"/>
<path d="M187.0,727.1 L188.0,727.7 L189.0,727.1 L190.0,729.3 L191.0,733.1 L192.0,734.5 L193.0,735.0 L194.0,735.6 L195.0,736.0 L196.0,736.9 L197.0,737.9 L198.0,739.7 L199.0,743.3 L200.0,744.2 L201.0,744.9 L202.0,746.5 L203.0,747.6 L204.0,749.3 L205.0,750.7 L206.0,751.9 L207.0,752.7 L208.0,753.4 L209.0,754.6 L210.0,755.3 L211.0,757.0 L212.0,757.2 L213.0,759.1 L214.0,760.2 L215.0,761.3 L216.0,763.3 L217.0,764.2 L218.0,765.2 L219.0,766.6 L220.0,767.6 L221.0,767.4 L222.0,769.0 L223.0,769.9 L224.0,770.7 L225.0,772.3 L226.0,773.6 L227.0,774.0 L228.0,774.4 L229.0,775.4 L230.0,776.8 L231.0,777.6 L232.0,778.9 L233.0,779.5 L234.0,780.0 L235.0,778.9 L236.0,778.8 L237.0,778.6 L238.0,779.5 L239.0,780.7 L240.0,780.4 L241.0,780.8 L242.0,781.4 L243.0,781.8 L244.0,782.6 L245.0,784.1 L246.0,785.2 L247.0,786.2 L248.0,785.5 L249.0,785.7 L250.0,785.7 L251.0,786.6 L252.0,787.1 L253.0,788.6 L254.0,789.3 L255.0,790.2 L256.0,791.6 L257.0,791.9 L258.0,791.7 L259.0,791.2 L260.0,791.5 L261.0,792.3 L262.0,793.0 L263.0,793.8 L264.0,794.9 L265.0,794.7 L266.0,795.9 L267.0,795.4 L268.0,796.0 L269.0,796.8 L270.0,796.7 L271.0,798.2 L272.0,798.2 L273.0,797.4 L274.0,796.7 L275.0,797.8 L276.0,798.2 L277.0,799.7 L278.0,799.2 L279.0,798.9 L280.0,799.8 L281.0,801.3 L282.0,802.1 L283.0,801.3 L284.0,801.6 L285.0,800.6 L286.0,800.7 L287.0,800.8 L288.0,802.6 L289.0,803.0 L290.0,802.0 L291.0,800.9 L292.0,801.5 L293.0,801.8 L294.0,803.6 L295.0,803.2 L296.0,802.6 L297.0,802.1 L298.0,802.3 L299.0,802.2 L300.0,801.4 L301.0,801.7 L302.0,802.3 L303.0,802.0 L304.0,802.5 L305.0,802.4 L306.0,802.9 L307.0,802.9 L308.0,802.6 L309.0,802.2 L310.0,802.6 L311.0,803.3 L312.0,803.3 L313.0,803.0 L314.0,801.9 L315.0,802.4 L316.0,803.6 L317.0,803.9 L318.0,803.5 L319.0,803.6 L320.0,803.2 L321.0,802.4 L322.0,802.1 L323.0,803.4 L324.0,804.3 L325.0,804.0 L326.0,802.7 L327.0,802.6 L328.0,801.9 L329.0,800.9 L330.0,802.3 L331.0,803.0 L332.0,802.7 L333.0,803.8 L334.0,802.9 L335.0,803.4 L336.0,803.9 L337.0,804.1 L338.0,803.3 L339.0,802.3 L340.0,803.5 L341.0,803.8 L342.0,804.2 L343.0,804.3 L344.0,802.9 L345.0,801.3 L346.0,801.1 L347.0,797.4 L348.0,791.0 L349.0,783.0 L350.0,775.6 L351.0,769.6 L352.0,764.3 L353.0,761.7 L354.0,762.7 L355.0,769.4 L356.0,775.4 L356.8,782.3 L357.0,784.1 L357.2,785.3 L357.8,792.2 L358.0,794.1 L358.2,795.4 L359.0,799.2 L360.0,799.4 L361.0,799.5 L362.0,800.3 L363.0,800.1 L364.0,799.6 L365.0,798.4 L366.0,798.2 L367.0,798.0 L368.0,799.9 L369.0,800.4 L370.0,799.9 L371.0,799.7 L372.0,800.1 L373.0,798.7 L374.0,797.0 L375.0,797.8 L376.0,797.9 L377.0,797.9 L378.0,798.6 L379.0,799.3 L380.0,798.4 L381.0,797.3 L382.0,796.9 L383.0,797.2 L384.0,797.5 L385.0,796.4 L386.0,796.0 L387.0,796.4 L388.0,794.6 L389.0,793.7 L390.0,793.4 L391.0,793.9 L392.0,793.2 L393.0,793.5 L394.0,793.6 L395.0,793.0 L396.0,792.1 L397.0,792.1 L398.0,791.1 L399.0,790.3 L400.0,788.6 L401.0,786.6 L402.0,784.9 L403.0,783.5 L404.0,783.3 L405.0,781.9 L406.0,780.4 L407.0,778.5 L408.0,778.4 L409.0,777.6 L410.0,777.8 L411.0,778.0 L412.0,778.7 L413.0,779.4 L414.0,779.1 L415.0,780.3 L416.0,781.2 L417.0,782.1 L418.0,781.4 L419.0,780.5 L420.0,780.4 L421.0,780.8 L422.0,779.7 L423.0,778.5 L424.0,776.7 L425.0,776.5 L426.0,777.7 L427.0,776.5 L428.0,776.1 L429.0,775.5 L430.0,774.6 L431.0,772.5 L432.0,772.2 L433.0,770.5 L434.0,768.7 L435.0,767.4 L436.0,767.7 L437.0,767.6 L438.0,767.1 L439.0,767.2 L440.0,764.4 L441.0,762.8 L442.0,761.0 L443.0,759.3 L444.0,758.3 L445.0,756.4 L446.0,754.4 L447.0,752.7 L448.0,751.0 L449.0,750.5 L450.0,748.4 L451.0,746.7 L452.0,746.7 L453.0,746.4 L454.0,745.9 L455.0,745.2 L456.0,745.3 L457.0,745.7 L458.0,745.1 L459.0,744.9 L460.0,744.6 L461.0,745.0 L462.0,743.5 L463.0,742.9 L464.0,742.0 L465.0,739.9 L466.0,736.9 L467.0,735.2 L468.0,732.9 L469.0,730.3 L470.0,725.9 L471.0,720.2 L472.0,715.5 L473.0,710.1 L474.0,704.6 L475.0,697.1 L476.0,690.4 L476.8,683.5 L477.0,682.5 L477.2,681.0 L477.8,674.8 L478.0,673.2 L478.2,671.4 L478.8,664.7 L479.0,662.4 L479.2,661.5 L479.8,652.7 L480.0,650.7 L480.2,648.3 L480.8,641.4 L481.0,638.9 L481.2,637.3 L481.6,630.4 L481.8,628.0 L481.9,625.0 L482.0,623.2 L482.1,620.9 L482.2,618.1 L482.4,613.8 L482.5,603.7 L482.6,600.3 L482.6,596.4 L482.7,592.3 L482.7,588.6 L482.8,584.2 L482.8,578.7 L482.9,574.3 L482.9,568.9 L483.0,563.7 L483.0,560.7 L483.0,557.8 L483.1,550.1 L483.1,540.5 L483.2,528.9 L483.2,517.6 L483.3,504.5 L483.3,490.9 L483.4,478.2 L483.4,464.4 L483.5,452.7 L483.5,430.9 L483.6,421.4 L483.6,414.0 L483.7,406.0 L483.7,398.2 L483.8,389.8 L483.8,383.0 L483.9,375.7 L483.9,369.2 L484.0,363.0 L484.0,360.6 L484.0,357.7 L484.1,353.3 L484.1,350.0 L484.2,347.1 L484.2,346.0 L484.3,344.6 L484.3,343.7 L484.4,342.4 L484.4,341.9 L484.5,341.2 L485.0,334.7 L485.7,336.9 L485.8,338.7 L486.0,340.6 L486.2,344.0 L486.3,347.9 L486.5,360.2 L486.6,363.7 L486.6,368.4 L486.7,372.2 L486.7,377.0 L486.8,380.2 L486.8,383.9 L486.9,387.4 L486.9,391.6 L487.0,395.3 L487.0,397.2 L487.0,399.5 L487.1,403.3 L487.1,408.2 L487.2,411.6 L487.2,416.1 L487.3,420.1 L487.3,424.0 L487.4,429.2 L487.4,432.0 L487.5,437.2 L487.5,444.2 L487.6,448.8 L487.6,453.6 L487.7,456.4 L487.7,460.9 L487.8,466.1 L487.8,470.0 L487.9,474.1 L487.9,478.5 L488.0,482.4 L488.0,484.8 L488.0,487.3 L488.1,490.8 L488.1,494.8 L488.2,499.0 L488.2,502.9 L488.3,505.5 L488.3,509.1 L488.4,511.9 L488.4,514.7 L488.5,517.4 L488.6,524.7 L488.7,529.2 L488.8,533.7 L488.9,538.4 L489.0,540.7 L489.1,543.0 L489.2,545.9 L489.3,548.9 L489.4,551.3 L490.0,556.6 L491.0,561.0 L492.0,564.0 L493.0,566.7 L494.0,567.9 L494.8,571.4 L495.0,573.6 L495.2,578.0 L495.6,584.0 L495.6,586.2 L495.7,587.0 L495.8,589.0 L495.8,590.8 L495.9,593.5 L495.9,595.8 L496.0,600.8 L496.1,604.7 L496.1,609.4 L496.2,614.1 L496.2,619.2 L496.3,625.2 L496.4,631.3 L496.4,639.2 L496.6,654.6 L496.7,660.8 L496.8,665.3 L496.9,669.6 L497.0,672.2 L497.0,673.5 L497.0,675.5 L497.1,677.2 L497.2,679.7 L497.3,681.6 L497.4,683.6 L497.8,689.8 L498.0,692.9 L498.2,695.2 L498.7,700.0 L498.9,702.5 L499.0,703.7 L499.1,705.5 L499.3,709.3 L499.6,718.7 L499.8,723.2 L499.9,727.1 L500.0,731.8 L500.1,735.5 L500.2,738.8 L500.4,741.8 L500.8,748.4 L501.0,750.5 L501.2,752.6 L501.8,759.2 L502.0,760.4 L502.2,762.6 L503.0,768.4 L504.0,773.9 L505.0,779.1 L506.0,784.0 L507.0,789.0 L508.0,794.2 L509.0,799.8 L510.0,802.9 L511.0,806.2 L512.0,809.5 L513.0,814.3 L514.0,818.9 L515.0,820.6 L516.0,822.9 L517.0,825.5 L518.0,828.3 L519.0,831.4 L520.0,831.9 L521.0,832.7 L522.0,833.4 L523.0,836.0 L524.0,836.6 L525.0,838.4 L526.0,840.6 L527.0,840.9 L528.0,841.1 L529.0,840.8 L530.0,842.6 L531.0,844.0 L532.0,845.1 L533.0,845.1 L534.0,845.2 L535.0,846.0 L536.0,846.9 L537.0,847.6 L538.0,849.1 L539.0,850.1 L540.0,850.8 L541.0,851.3 L542.0,853.2 L543.0,854.6 L544.0,857.1 L545.0,857.8 L546.0,858.3 L547.0,858.9 L548.0,859.4 L549.0,860.7 L550.0,862.3 L551.0,864.5 L552.0,866.1 L553.0,866.1 L554.0,866.4 L555.0,867.4 L556.0,869.2 L557.0,871.7 L558.0,871.2 L559.0,871.6 L560.0,873.0 L561.0,874.5 L562.0,875.4 L563.0,877.7 L564.0,879.5 L565.0,879.8 L566.0,879.6 L567.0,879.8 L568.0,880.5 L569.0,880.9 L570.0,882.9 L571.0,882.9 L572.0,884.1 L573.0,885.4 L574.0,885.3 L575.0,886.6 L576.0,886.9 L577.0,886.0 L578.0,883.1 L579.0,880.0 L580.0,879.1 L581.0,877.1 L582.0,875.5 L583.0,875.2 L584.0,875.8 L585.0,874.8 L586.0,875.7 L587.0,877.2 L588.0,879.7 L589.0,881.0 L590.0,883.8 L591.0,885.5 L592.0,887.7 L593.0,888.8 L594.0,889.8 L595.0,890.8 L596.0,891.9 L597.0,892.9 L598.0,894.0 L599.0,895.3 L600.0,896.2 L601.0,897.0 L602.0,897.9 L603.0,898.7 L604.0,898.4 L605.0,899.7 L606.0,900.6 L607.0,901.3 L608.0,902.7 L609.0,903.5 L610.0,903.4 L611.0,903.7 L612.0,903.9 L613.0,902.9 L614.0,902.4 L615.0,902.9 L616.0,902.8 L617.0,903.5 L618.0,903.9 L619.0,904.7 L620.0,903.3 L621.0,902.2 L622.0,902.3 L623.0,902.2 L624.0,903.8 L625.0,904.1 L626.0,904.0 L627.0,903.9 L628.0,904.2 L629.0,903.6 L630.0,904.3 L631.0,905.1 L632.0,905.4 L633.0,906.6 L634.0,907.5 L635.0,906.9 L636.0,906.4 L637.0,906.3 L638.0,907.0 L639.0,906.2 L640.0,906.1 L641.0,905.7 L642.0,904.4 L643.0,904.1 L644.0,903.4 L645.0,902.7 L646.0,902.1 L647.0,902.8 L648.0,904.1 L649.0,905.7 L650.0,906.4 L651.0,906.9 L652.0,908.0 L653.0,907.9 L654.0,909.6 L655.0,909.6 L656.0,910.7 L657.0,910.5 L658.0,908.7 L659.0,905.9 L660.0,902.3 L661.0,898.7 L662.0,896.0 L663.0,893.0 L664.0,889.4 L665.0,886.0 L666.0,884.0 L667.0,885.6 L668.0,888.0 L669.0,891.8 L670.0,896.6 L671.0,900.5 L672.0,904.0 L673.0,907.6 L674.0,909.9 L675.0,912.6 L676.0,913.3 L677.0,912.3 L678.0,911.6 L679.0,910.6 L680.0,909.2 L681.0,906.2 L682.0,904.9 L683.0,904.0 L684.0,901.2 L685.0,896.4 L686.0,892.4 L687.0,889.5 L688.0,889.0 L689.0,891.8 L690.0,894.2 L691.0,897.6 L692.0,901.6 L693.0,904.9 L694.0,907.7 L695.0,910.4 L696.0,912.6 L697.0,914.5 L698.0,915.2 L699.0,914.6 L700.0,914.2 L701.0,912.3 L702.0,910.8 L703.0,910.7 L704.0,909.7 L705.0,907.2 L706.0,905.1 L707.0,903.4 L708.0,900.9 L709.0,895.0 L709.8,888.2 L710.0,886.5 L710.2,884.8 L710.8,878.2 L711.0,877.1 L711.2,875.4 L712.0,868.8 L713.0,861.3 L714.0,855.3 L715.0,847.2 L716.0,841.7 L717.0,837.3 L718.0,836.7 L719.0,840.6 L719.8,849.1 L720.0,850.8 L720.2,852.9 L720.8,859.4 L721.0,861.3 L721.2,863.1 L722.0,870.6 L723.0,875.6 L724.0,882.0 L725.0,886.6 L726.0,891.4 L727.0,895.4 L728.0,898.9 L729.0,902.8 L730.0,907.8 L731.0,911.9 L732.0,914.6 L733.0,914.6 L734.0,914.5 L735.0,915.5 L736.0,916.8 L737.0,918.0 L738.0,918.5 L739.0,919.2 L740.0,918.0 L741.0,915.4 L742.0,916.1 L743.0,917.1 L744.0,918.1 L745.0,917.8 L746.0,918.4 L747.0,918.6 L748.0,918.4 L749.0,918.0 L750.0,917.7 L751.0,917.2 L752.0,917.3 L753.0,917.1 L754.0,916.8 L755.0,916.1 L756.0,915.5 L757.0,915.4 L758.0,915.6 L759.0,916.5 L760.0,916.0 L761.0,915.9 L762.0,915.9 L763.0,914.9 L764.0,914.2 L765.0,913.3 L766.0,913.8 L767.0,913.3 L768.0,913.0 L769.0,913.0 L770.0,912.6 L771.0,911.8 L772.0,911.6 L773.0,909.2 L774.0,907.5 L775.0,905.2 L776.0,901.4 L777.0,898.3 L778.0,894.5 L779.0,891.3 L780.0,884.4 L780.8,877.1 L781.0,876.4 L781.2,874.7 L781.8,867.7 L782.0,866.7 L782.2,864.7 L782.8,858.8 L783.0,856.9 L783.2,854.5 L783.8,848.4 L784.0,846.7 L784.2,845.8 L784.8,840.4 L785.0,839.2 L785.2,837.5 L785.8,831.6 L786.0,830.6 L786.2,830.2 L787.0,826.1 L788.0,823.2 L789.0,821.4 L790.0,819.2 L791.0,818.7 L792.0,820.0 L793.0,824.2 L794.0,827.0 L795.0,830.7 L796.0,834.0 L797.0,838.9 L798.0,842.7 L799.0,843.8 L800.0,845.2 L801.0,844.6 L802.0,844.1 L803.0,843.8 L804.0,844.5 L805.0,843.1 L806.0,842.0 L807.0,840.7 L808.0,839.8 L809.0,839.4 L810.0,837.6 L811.0,834.7 L812.0,827.6 L812.8,820.4 L813.0,818.4 L813.2,817.4 L813.8,808.8 L814.0,807.1 L814.2,806.0 L814.8,799.3 L815.0,798.3 L815.2,796.5 L815.8,789.4 L816.0,787.6 L816.2,784.9 L816.8,778.0 L817.0,774.6 L817.2,770.9 L817.7,763.6 L817.8,760.7 L818.0,757.4 L818.2,754.6 L818.3,750.7 L818.6,743.1 L818.8,739.5 L818.9,735.9 L819.0,733.7 L819.1,731.9 L819.2,727.5 L819.4,724.1 L819.6,716.4 L819.7,712.8 L819.8,709.3 L819.9,705.6 L820.0,702.4 L820.0,699.9 L820.0,697.5 L820.1,693.8 L820.2,690.4 L820.3,686.7 L820.4,682.8 L820.6,674.7 L820.7,670.2 L820.8,665.8 L820.9,662.3 L821.0,660.3 L821.1,659.1 L821.2,655.3 L821.3,652.1 L821.4,648.3 L821.7,638.7 L821.8,634.5 L822.0,630.2 L822.2,626.1 L822.3,624.3 L822.8,624.5 L823.0,626.9 L823.2,631.5 L823.7,640.3 L823.8,644.5 L824.0,648.2 L824.2,652.3 L824.3,656.4 L824.7,663.4 L824.8,666.7 L825.0,670.1 L825.2,673.6 L825.3,677.4 L825.7,684.7 L825.8,688.7 L826.0,692.5 L826.2,696.1 L826.3,699.9 L826.7,707.1 L826.8,710.9 L827.0,714.1 L827.2,716.8 L827.3,720.3 L827.7,726.7 L827.9,730.3 L828.0,732.0 L828.1,733.6 L828.3,736.7 L828.7,743.0 L828.9,747.1 L829.0,749.0 L829.1,750.1 L829.3,754.0 L829.8,761.2 L830.0,765.5 L830.2,769.0 L830.8,776.5 L831.0,779.9 L831.2,782.6 L831.8,789.7 L832.0,792.6 L832.2,795.0 L832.7,802.1 L832.9,804.8 L833.0,806.4 L833.1,808.2 L833.3,811.8 L833.6,819.3 L833.8,823.0 L833.9,826.4 L834.0,829.0 L834.1,830.7 L834.2,833.5 L834.4,836.9 L834.8,846.0 L835.0,847.9 L835.2,849.0 L836.0,855.8 L837.0,864.1 L838.0,870.2 L839.0,874.9 L840.0,878.2 L841.0,881.0 L842.0,883.4 L843.0,885.2 L844.0,886.0 L845.0,885.4 L846.0,885.6 L847.0,886.3 L848.0,887.7 L849.0,889.2 L850.0,889.3 L851.0,889.0 L852.0,888.7 L853.0,889.4 L854.0,889.4 L855.0,892.7 L856.0,896.7 L857.0,901.2 L858.0,906.4 L859.0,910.8 L860.0,912.7 L861.0,915.3 L862.0,917.1 L863.0,916.8 L864.0,917.8 L865.0,917.6 L866.0,918.3 L867.0,918.2 L868.0,919.7 L869.0,921.3 L870.0,922.8 L871.0,924.2 L872.0,924.9 L873.0,925.4 L874.0,925.5 L875.0,925.7 L876.0,925.3 L877.0,926.1 L878.0,928.2 L879.0,928.9 L880.0,928.8 L881.0,929.1 L882.0,929.7 L883.0,930.0 L884.0,931.4 L885.0,930.2 L886.0,929.8 L887.0,930.6 L888.0,929.9 L889.0,931.4 L890.0,931.7 L891.0,933.0 L892.0,933.5 L893.0,933.2 L894.0,933.1 L895.0,933.1 L896.0,933.6 L897.0,933.7 L898.0,934.5 L899.0,934.7 L900.0,934.2 L901.0,932.4 L902.0,932.4 L903.0,932.1 L904.0,932.0 L905.0,931.9 L906.0,930.9 L907.0,929.8 L908.0,930.2 L909.0,928.8 L910.0,929.8 L911.0,929.6 L912.0,928.9 L913.0,928.6 L914.0,927.8 L915.0,928.1 L916.0,927.0 L917.0,928.5 L918.0,930.3 L919.0,931.9 L920.0,932.2 L921.0,933.4 L922.0,934.1 L923.0,935.8 L924.0,937.2 L925.0,937.3 L926.0,937.7 L927.0,937.4 L928.0,937.1 L929.0,937.4 L930.0,938.0 L931.0,937.9 L932.0,937.1 L933.0,936.7 L934.0,936.5 L935.0,935.5 L936.0,933.9 L937.0,933.4 L938.0,934.1 L939.0,935.4 L940.0,934.7 L941.0,932.6 L942.0,932.0 L943.0,933.6 L944.0,934.3 L945.0,935.9 L946.0,938.0 L947.0,938.4 L948.0,937.7 L949.0,937.3 L950.0,939.4 L951.0,940.6 L952.0,941.7 L953.0,940.9 L954.0,940.9 L955.0,941.2 L956.0,942.1 L957.0,942.1 L958.0,942.1 L959.0,942.0 L960.0,941.4 L961.0,941.1 L962.0,941.6 L963.0,940.3 L964.0,939.6 L965.0,939.3 L966.0,939.4 L967.0,939.4 L968.0,939.7 L969.0,940.3 L970.0,939.0 L971.0,938.3 L972.0,938.3 L973.0,938.8 L974.0,939.2 L975.0,940.1 L976.0,940.8 L977.0,940.9 L978.0,940.1 L979.0,940.5 L980.0,940.5 L981.0,940.1 L982.0,940.5 L983.0,940.5 L984.0,940.5 L985.0,940.4 L986.0,941.2 L987.0,941.6 L988.0,941.9 L989.0,939.8 L990.0,938.6 L991.0,936.6 L992.0,934.9 L993.0,933.3 L994.0,931.0 L995.0,930.5 L996.0,931.4 L997.0,930.2 L998.0,928.1 L999.0,927.2 L1000.0,926.4 L1001.0,925.3 L1002.0,927.2 L1003.0,929.9 L1004.0,931.6 L1005.0,932.9 L1006.0,934.4 L1007.0,935.2 L1008.0,936.1 L1009.0,937.2 L1010.0,936.6 L1011.0,936.4 L1012.0,935.8 L1013.0,937.7 L1014.0,937.9 L1015.0,937.8 L1016.0,936.7 L1017.0,936.6 L1018.0,936.9 L1019.0,936.9 L1020.0,936.2 L1021.0,935.1 L1022.0,936.0 L1023.0,938.1 L1024.0,940.6 L1025.0,941.8 L1026.0,943.7 L1027.0,945.0 L1028.0,946.8 L1029.0,947.5 L1030.0,946.7 L1031.0,945.4 L1032.0,944.7 L1033.0,943.8 L1034.0,943.5 L1035.0,943.8 L1036.0,944.5 L1037.0,943.6 L1038.0,944.5 L1039.0,942.9 L1040.0,943.9 L1041.0,944.4 L1042.0,943.2 L1043.0,943.3 L1044.0,943.3 L1045.0,942.4 L1046.0,943.9 L1047.0,943.6 L1048.0,943.7 L1049.0,944.0 L1050.0,943.4 L1051.0,944.2 L1052.0,943.9 L1053.0,943.7 L1054.0,944.0 L1055.0,944.9 L1056.0,943.7 L1057.0,943.9 L1058.0,944.1 L1059.0,944.2 L1060.0,944.3 L1061.0,944.5 L1062.0,944.1 L1063.0,944.6 L1064.0,944.5 L1065.0,945.2 L1066.0,943.6 L1067.0,943.7 L1068.0,942.7 L1069.0,941.7 L1070.0,942.0 L1071.0,942.8 L1072.0,943.7 L1073.0,944.3 L1074.0,944.3 L1075.0,943.7 L1076.0,943.5 L1077.0,943.2 L1078.0,942.5 L1079.0,941.6 L1080.0,939.9 L1081.0,939.0 L1082.0,936.1 L1083.0,933.5 L1084.0,931.7 L1085.0,930.0 L1086.0,927.2 L1087.0,924.6 L1088.0,924.0 L1089.0,923.1 L1090.0,922.2 L1091.0,921.6 L1092.0,922.5 L1093.0,923.9 L1094.0,926.8 L1095.0,929.7 L1096.0,932.2 L1097.0,934.8 L1098.0,938.0 L1099.0,941.4 L1100.0,943.4 L1101.0,943.7 L1102.0,942.9 L1103.0,944.3 L1104.0,944.6 L1105.0,944.9 L1106.0,944.7 L1107.0,945.1 L1108.0,945.3 L1109.0,946.6 L1110.0,945.5 L1111.0,944.7 L1112.0,944.6 L1113.0,944.7 L1114.0,944.8 L1115.0,944.5 L1116.0,944.4 L1117.0,943.9 L1118.0,942.5 L1119.0,941.1 L1120.0,939.9 L1121.0,938.3 L1122.0,938.2 L1123.0,939.7 L1124.0,942.2 L1125.0,942.6 L1126.0,943.2 L1127.0,945.2 L1128.0,947.6 L1129.0,950.2 L1130.0,950.6 L1131.0,950.5 L1132.0,950.0 L1133.0,950.5 L1134.0,951.1 L1135.0,950.4 L1136.0,950.0 L1137.0,949.1 L1138.0,950.3 L1139.0,950.0 L1140.0,950.4 L1141.0,950.8 L1142.0,950.9 L1143.0,951.5 L1144.0,951.7 L1145.0,951.9 L1146.0,951.0 L1147.0,952.0 L1148.0,952.0 L1149.0,952.9 L1150.0,952.5 L1151.0,953.3 L1152.0,953.7 L1153.0,953.4 L1154.0,953.0 L1155.0,952.7 L1156.0,952.4 L1157.0,951.3 L1158.0,950.9 L1159.0,951.1 L1160.0,951.7 L1161.0,953.2 L1162.0,953.0 L1163.0,952.6 L1164.0,952.8 L1165.0,954.1 L1166.0,953.9 L1167.0,954.7 L1168.0,955.4 L1169.0,955.6 L1170.0,956.3 L1171.0,956.1 L1172.0,956.0 L1173.0,954.8 L1174.0,954.2 L1175.0,954.3 L1176.0,955.5 L1177.0,955.9 L1178.0,956.5 L1179.0,957.0 L1180.0,955.8 L1181.0,955.1 L1182.0,955.1 L1183.0,955.6 L1184.0,954.9 L1185.0,955.6 L1186.0,955.6 L1187.0,955.5 L1188.0,955.5 L1189.0,954.6 L1190.0,954.3 L1191.0,954.7 L1192.0,954.3 L1193.0,954.1 L1194.0,954.1 L1195.0,954.6 L1196.0,954.6 L1197.0,955.0 L1198.0,954.6 L1199.0,954.7 L1200.0,955.3 L1201.0,955.7 L1202.0,955.4 L1203.0,955.1 L1204.0,954.3 L1205.0,956.2 L1206.0,956.0 L1207.0,956.6 L1208.0,956.7 L1209.0,955.7 L1210.0,954.9 L1211.0,954.0 L1212.0,953.8 L1213.0,954.6 L1214.0,955.9 L1215.0,955.8 L1216.0,955.0 L1217.0,954.9 L1218.0,955.6 L1219.0,955.8 L1220.0,956.3 L1221.0,955.9 L1222.0,955.2 L1223.0,955.4 L1224.0,955.2 L1225.0,955.5 L1226.0,955.7 L1227.0,955.9 L1228.0,955.4 L1229.0,955.5 L1230.0,956.0 L1231.0,956.5 L1232.0,956.7 L1233.0,956.8 L1234.0,957.8 L1235.0,956.4 L1236.0,957.3 L1237.0,957.2 L1238.0,957.5 L1239.0,957.6 L1240.0,957.3 L1241.0,956.5 L1242.0,956.6 L1243.0,957.7 L1244.0,958.0 L1245.0,958.1 L1246.0,957.5 L1247.0,956.1 L1248.0,957.5 L1249.0,958.9 L1250.0,958.8 L1251.0,958.6 L1252.0,958.7 L1253.0,958.9 L1254.0,959.0 L1255.0,958.7 L1256.0,957.6 L1257.0,958.2 L1258.0,958.9 L1259.0,960.8 L1260.0,958.9 L1261.0,958.3 L1262.0,957.9 L1263.0,957.4 L1264.0,956.8 L1265.0,956.7 L1266.0,956.2 L1267.0,956.4 L1268.0,957.4 L1269.0,958.1 L1270.0,955.9 L1271.0,956.3 L1272.0,955.4 L1273.0,955.8 L1274.0,956.8 L1275.0,955.2 L1276.0,953.8 L1277.0,953.4 L1278.0,954.2 L1279.0,954.7 L1280.0,954.4 L1281.0,953.1 L1282.0,952.6 L1283.0,953.1 L1284.0,952.1 L1285.0,951.3 L1286.0,949.4 L1287.0,948.0 L1288.0,946.5 L1289.0,945.3 L1290.0,944.4 L1291.0,943.5 L1292.0,941.9 L1293.0,939.0 L1294.0,936.5 L1295.0,934.5 L1296.0,932.5 L1297.0,931.2 L1298.0,930.7 L1299.0,931.4 L1300.0,929.8 L1301.0,929.8 L1302.0,932.1 L1303.0,936.3 L1304.0,940.2 L1305.0,942.7 L1306.0,944.7 L1307.0,946.8 L1308.0,949.1 L1309.0,951.2 L1310.0,952.8 L1311.0,954.6 L1312.0,955.0 L1313.0,956.9 L1314.0,957.7 L1315.0,957.7 L1316.0,957.3 L1317.0,957.9 L1318.0,958.1 L1319.0,958.6 L1320.0,958.8 L1321.0,959.8 L1322.0,960.2 L1323.0,960.9 L1324.0,961.3 L1325.0,960.4 L1326.0,960.4 L1327.0,960.1 L1328.0,959.5 L1329.0,958.9 L1330.0,959.1 L1331.0,958.7 L1332.0,959.0 L1333.0,959.1 L1334.0,959.1 L1335.0,959.4 L1336.0,960.0 L1337.0,959.5 L1338.0,959.8 L1339.0,958.6 L1340.0,958.7 L1341.0,956.9 L1342.0,955.4 L1343.0,956.3 L1344.0,958.9 L1345.0,959.3 L1346.0,960.2 L1347.0,960.6 L1348.0,961.1 L1349.0,961.5 L1350.0,962.1 L1351.0,962.0 L1352.0,962.2 L1353.0,963.6 L1354.0,964.7 L1355.0,963.0 L1356.0,961.5 L1357.0,961.1 L1358.0,962.1 L1359.0,962.9 L1360.0,962.8 L1361.0,963.8 L1362.0,963.2 L1363.0,963.4 L1364.0,962.7 L1365.0,964.2 L1366.0,964.8 L1367.0,966.3 L1368.0,964.5 L1369.0,964.1 L1370.0,964.5 L1371.0,964.4 L1372.0,962.9 L1373.0,963.0 L1374.0,962.4 L1375.0,962.3 L1376.0,963.4 L1377.0,963.1 L1378.0,962.5 L1379.0,962.3 L1380.0,962.4 L1381.0,962.2 L1382.0,963.4 L1383.0,962.5 L1384.0,962.4 L1385.0,962.6 L1386.0,961.9 L1387.0,962.4 L1388.0,962.2 L1389.0,962.8 L1390.0,963.0 L1391.0,963.4 L1392.0,963.2 L1393.0,962.9 L1394.0,963.2 L1395.0,962.0 L1396.0,961.6 L1397.0,961.0 L1398.0,960.3 L1399.0,959.3 L1400.0,960.7 L1401.0,961.1 L1402.0,962.2 L1403.0,962.0 L1404.0,961.9 L1405.0,961.5 L1406.0,960.2 L1407.0,960.6 L1408.0,960.4 L1409.0,959.7 L1410.0,960.6 L1411.0,961.5 L1412.0,960.8 L1413.0,960.4 L1414.0,959.5 L1415.0,959.9 L1416.0,960.5 L1417.0,960.6 L1418.0,960.3 L1419.0,959.3 L1420.0,958.8 L1421.0,959.3 L1422.0,959.1 L1423.0,959.2 L1424.0,959.9 L1425.0,958.7 L1426.0,957.8 L1427.0,958.6 L1428.0,958.1 L1429.0,959.4 L1430.0,958.7 L1431.0,959.2 L1432.0,958.5 L1433.0,957.3 L1434.0,955.5 L1435.0,956.6 L1436.0,957.0 L1437.0,956.3 L1438.0,955.3 L1439.0,954.4 L1440.0,953.6 L1441.0,953.6 L1442.0,952.4 L1443.0,951.5 L1444.0,950.0 L1445.0,948.8 L1446.0,946.6 L1447.0,944.9 L1448.0,944.0 L1449.0,942.4 L1450.0,942.0 L1451.0,940.5 L1452.0,940.0 L1453.0,940.6 L1454.0,940.3 L1455.0,940.2 L1456.0,938.7 L1457.0,938.9 L1458.0,938.2 L1459.0,937.2 L1460.0,934.3 L1461.0,933.0 L1462.0,930.6 L1463.0,928.1 L1464.0,925.9 L1465.0,926.0 L1466.0,926.8 L1467.0,926.2 L1468.0,925.9 L1469.0,926.9 L1470.0,928.1 L1471.0,929.8 L1472.0,932.0 L1473.0,934.6 L1474.0,938.1 L1475.0,940.5 L1476.0,943.4 L1477.0,944.4 L1478.0,945.0 L1479.0,945.3 L1480.0,946.1 L1481.0,947.1 L1482.0,948.3 L1483.0,948.6 L1484.0,949.1 L1485.0,949.8 L1486.0,949.9 L1487.0,949.9 L1488.0,950.9 L1489.0,951.4 L1490.0,951.9 L1491.0,952.6 L1492.0,952.6 L1493.0,952.5 L1494.0,952.4 L1495.0,952.2 L1496.0,953.1 L1497.0,953.6 L1498.0,954.6 L1499.0,955.6 L1500.0,955.5 L1501.0,956.2 L1502.0,955.7 L1503.0,956.5 L1504.0,956.3 L1505.0,956.1 L1506.0,955.5 L1507.0,955.7 L1508.0,956.8 L1509.0,956.8 L1510.0,957.1 L1511.0,957.1 L1512.0,956.5 L1513.0,956.6 L1514.0,957.4 L1515.0,957.6 L1516.0,958.1 L1517.0,957.8 L1518.0,956.6 L1519.0,956.1 L1520.0,956.7 L1521.0,956.6 L1522.0,956.8 L1523.0,956.3 L1524.0,956.8 L1525.0,957.1 L1526.0,955.9 L1527.0,957.1 L1528.0,958.4 L1529.0,959.1 L1530.0,958.7 L1531.0,958.0 L1532.0,957.3 L1533.0,956.5 L1534.0,955.5 L1535.0,956.2 L1536.0,957.3 L1537.0,957.2 L1538.0,956.3 L1539.0,956.7 L1540.0,957.3 L1541.0,957.3 L1542.0,958.2 L1543.0,957.2 L1544.0,956.6 L1545.0,957.0 L1546.0,955.4 L1547.0,955.6 L1548.0,956.4 L1549.0,956.2 L1550.0,956.0 L1551.0,956.8 L1552.0,956.4 L1553.0,955.6 L1554.0,955.5 L1555.0,955.8 L1556.0,955.9 L1557.0,954.5 L1558.0,955.1 L1559.0,954.8 L1560.0,954.5 L1561.0,955.1 L1562.0,954.3 L1563.0,953.8 L1564.0,953.6 L1565.0,953.5 L1566.0,953.8 L1567.0,953.6 L1568.0,953.2 L1569.0,952.8 L1570.0,951.2 L1571.0,950.3 L1572.0,949.8 L1573.0,948.6 L1574.0,947.9 L1575.0,946.3 L1576.0,944.2 L1577.0,941.6 L1578.0,940.0 L1579.0,939.1 L1580.0,937.5 L1581.0,936.0 L1582.0,935.6 L1583.0,935.2 L1584.0,935.0 L1585.0,935.1 L1586.0,934.3 L1587.0,934.7 L1588.0,936.0 L1589.0,938.2 L1590.0,939.1 L1591.0,940.1 L1592.0,941.8 L1593.0,943.1 L1594.0,944.5 L1595.0,947.9 L1596.0,950.5 L1597.0,951.5 L1598.0,950.7 L1599.0,949.9 L1600.0,948.2 L1601.0,948.0 L1602.0,946.8 L1603.0,945.8 L1604.0,943.8 L1605.0,944.2 L1606.0,942.6 L1607.0,942.6 L1608.0,943.2 L1609.0,943.6 L1610.0,945.3 L1611.0,946.5 L1612.0,948.4 L1613.0,949.4 L1614.0,950.8 L1615.0,952.1 L1616.0,953.6 L1617.0,954.8 L1618.0,955.2 L1619.0,955.9 L1620.0,958.0 L1621.0,958.2 L1622.0,959.9 L1623.0,960.5 L1624.0,961.9 L1625.0,961.2 L1626.0,961.6 L1627.0,961.5 L1628.0,961.4 L1629.0,961.6 L1630.0,962.0 L1631.0,962.9 L1632.0,963.2 L1633.0,963.9 L1634.0,963.9 L1635.0,963.6 L1636.0,964.0 L1637.0,964.1 L1638.0,963.7 L1639.0,964.2 L1640.0,963.4 L1641.0,962.9 L1642.0,962.6 L1643.0,963.7 L1644.0,965.1 L1645.0,965.1 L1646.0,966.5 L1647.0,966.7 L1648.0,966.3 L1649.0,966.2 L1650.0,965.0 L1651.0,964.5 L1652.0,964.1 L1653.0,965.1 L1654.0,967.0 L1655.0,965.6 L1656.0,964.5 L1657.0,966.0 L1658.0,967.0 L1659.0,967.8 L1660.0,968.2 L1661.0,967.9 L1662.0,967.1 L1663.0,967.0 L1664.0,965.8 L1665.0,966.9 L1666.0,967.2 L1667.0,967.7 L1668.0,967.5 L1669.0,966.5 L1670.0,966.9 L1671.0,966.7 L1672.0,967.4 L1673.0,966.8 L1674.0,967.2 L1675.0,966.2 L1676.0,966.0 L1677.0,965.6 L1678.0,967.2 L1679.0,966.9 L1680.0,966.4 L1681.0,966.3 L1682.0,965.6 L1683.0,966.2 L1684.0,967.7" fill="none" stroke="#008000" stroke-width="8.2" stroke-linejoin="round" stroke-linecap="butt"/>
<rect x="186" y="41" width="1500" height="3" fill="#000"/>
<rect x="186" y="44" width="1497" height="2.8" fill="#c2c2c2"/>
<rect x="186" y="1701" width="1500" height="3" fill="#0a0a0a"/>
<rect x="189" y="1704" width="1494" height="2.8" fill="#9c9c9c"/>
<rect x="183.1" y="41.3" width="5.8" height="1684" fill="#5a5a5a"/>
<rect x="183.1" y="1725" width="5.8" height="2.8" fill="#c4c4c4"/>
<rect x="1682.2" y="41.3" width="5.8" height="1684" fill="#5a5a5a"/>
<rect x="1682.2" y="1725" width="5.8" height="2.8" fill="#c4c4c4"/>
<rect x="279.1" y="44" width="3.2" height="11" fill="#000"/>
<rect x="279.1" y="1704" width="3.2" height="10.5" fill="#111"/>
<rect x="372.7" y="44" width="3.2" height="21" fill="#000"/>
<rect x="372.7" y="1704" width="3.2" height="22" fill="#111"/>
<rect x="466.3" y="44" width="3.2" height="11" fill="#000"/>
<rect x="466.3" y="1704" width="3.2" height="10.5" fill="#111"/>
<rect x="559.9" y="44" width="3.2" height="21" fill="#000"/>
<rect x="559.9" y="1704" width="3.2" height="22" fill="#111"/>
<rect x="653.5" y="44" width="3.2" height="11" fill="#000"/>
<rect x="653.5" y="1704" width="3.2" height="10.5" fill="#111"/>
<rect x="747.1" y="44" width="3.2" height="21" fill="#000"/>
<rect x="747.1" y="1704" width="3.2" height="22" fill="#111"/>
<rect x="840.7" y="44" width="3.2" height="11" fill="#000"/>
<rect x="840.7" y="1704" width="3.2" height="10.5" fill="#111"/>
<rect x="934.3" y="44" width="3.2" height="21" fill="#000"/>
<rect x="934.3" y="1704" width="3.2" height="22" fill="#111"/>
<rect x="1027.9" y="44" width="3.2" height="11" fill="#000"/>
<rect x="1027.9" y="1704" width="3.2" height="10.5" fill="#111"/>
<rect x="1121.5" y="44" width="3.2" height="21" fill="#000"/>
<rect x="1121.5" y="1704" width="3.2" height="22" fill="#111"/>
<rect x="1215.1" y="44" width="3.2" height="11" fill="#000"/>
<rect x="1215.1" y="1704" width="3.2" height="10.5" fill="#111"/>
<rect x="1308.7" y="44" width="3.2" height="21" fill="#000"/>
<rect x="1308.7" y="1704" width="3.2" height="22" fill="#111"/>
<rect x="1402.3" y="44" width="3.2" height="11" fill="#000"/>
<rect x="1402.3" y="1704" width="3.2" height="10.5" fill="#111"/>
<rect x="1495.9" y="44" width="3.2" height="21" fill="#000"/>
<rect x="1495.9" y="1704" width="3.2" height="22" fill="#111"/>
<rect x="1589.5" y="44" width="3.2" height="11" fill="#000"/>
<rect x="1589.5" y="1704" width="3.2" height="10.5" fill="#111"/>
<text x="184.9" y="1782.2" font-size="54.3" text-anchor="middle">10</text>
<text x="372.1" y="1782.2" font-size="54.3" text-anchor="middle">20</text>
<text x="559.3" y="1782.2" font-size="54.3" text-anchor="middle">30</text>
<text x="746.5" y="1782.2" font-size="54.3" text-anchor="middle">40</text>
<text x="933.7" y="1782.2" font-size="54.3" text-anchor="middle">50</text>
<text x="1120.9" y="1782.2" font-size="54.3" text-anchor="middle">60</text>
<text x="1308.1" y="1782.2" font-size="54.3" text-anchor="middle">70</text>
<text x="1495.3" y="1782.2" font-size="54.3" text-anchor="middle">80</text>
<text x="1682.5" y="1782.2" font-size="54.3" text-anchor="middle">90</text>
<text x="932.9" y="1880" font-size="59.5" text-anchor="middle">2 theta (deg)</text>
<text transform="translate(80.3,873.5) rotate(-90)" x="0" y="0" font-size="59.5" text-anchor="middle">Intensity (a.u.)</text>
<rect x="715.4" y="1406.3" width="6.6" height="38.9" fill="#0000ff"/>
<rect x="785.1" y="1406.3" width="6.6" height="38.9" fill="#0000ff"/>
<rect x="820.7" y="1406.3" width="6.6" height="38.9" fill="#0000ff"/>
<rect x="1089.3" y="1406.3" width="6.6" height="38.9" fill="#0000ff"/>
<rect x="1295.7" y="1406.3" width="6.6" height="38.9" fill="#0000ff"/>
<rect x="1464.2" y="1406.3" width="6.6" height="38.9" fill="#0000ff"/>
<rect x="1536.5" y="1406.3" width="6.6" height="38.9" fill="#0000ff"/>
<rect x="1583.3" y="1406.3" width="6.6" height="38.9" fill="#0000ff"/>
<rect x="1606.9" y="1406.3" width="6.6" height="38.9" fill="#0000ff"/>
<rect x="349.2" y="1475.4" width="6.6" height="39.2" fill="#00ffff"/>
<rect x="404.8" y="1475.4" width="6.6" height="39.2" fill="#00ffff"/>
<rect x="579.5" y="1475.4" width="6.6" height="39.2" fill="#00ffff"/>
<rect x="683.7" y="1475.4" width="6.6" height="39.2" fill="#00ffff"/>
<rect x="714.7" y="1475.4" width="6.6" height="39.2" fill="#00ffff"/>
<rect x="910.8" y="1475.4" width="6.6" height="39.2" fill="#00ffff"/>
<rect x="1275.3" y="1475.4" width="6.6" height="39.2" fill="#00ffff"/>
<rect x="494.9" y="1545.1" width="6.6" height="39.2" fill="#808000"/>
<rect x="809.1" y="1545.1" width="6.6" height="39.2" fill="#808000"/>
<rect x="862.8" y="1545.1" width="6.6" height="39.2" fill="#808000"/>
<rect x="1022.1" y="1545.1" width="6.6" height="39.2" fill="#808000"/>
<rect x="1057.4" y="1545.1" width="6.6" height="39.2" fill="#808000"/>
<rect x="1189.6" y="1545.1" width="6.6" height="39.2" fill="#808000"/>
<rect x="1451.5" y="1545.1" width="6.6" height="39.2" fill="#808000"/>
<rect x="1509.2" y="1545.1" width="6.6" height="39.2" fill="#808000"/>
<rect x="1567.0" y="1545.1" width="6.6" height="39.2" fill="#808000"/>
<rect x="1632.4" y="1545.1" width="6.6" height="39.2" fill="#808000"/>
<rect x="367.4" y="1614.1" width="6.6" height="38.9" fill="#ff00ff"/>
<rect x="385.5" y="1614.1" width="6.6" height="38.9" fill="#ff00ff"/>
<rect x="399.3" y="1614.1" width="6.6" height="38.9" fill="#ff00ff"/>
<rect x="444.0" y="1614.1" width="6.6" height="38.9" fill="#ff00ff"/>
<rect x="513.4" y="1614.1" width="6.6" height="38.9" fill="#ff00ff"/>
<rect x="547.2" y="1614.1" width="6.6" height="38.9" fill="#ff00ff"/>
<rect x="565.3" y="1614.1" width="6.6" height="38.9" fill="#ff00ff"/>
<rect x="654.3" y="1614.1" width="6.6" height="38.9" fill="#ff00ff"/>
<rect x="679.8" y="1614.1" width="6.6" height="38.9" fill="#ff00ff"/>
<rect x="736.1" y="1614.1" width="6.6" height="38.9" fill="#ff00ff"/>
<rect x="748.8" y="1614.1" width="6.6" height="38.9" fill="#ff00ff"/>
<rect x="801.5" y="1614.1" width="6.6" height="38.9" fill="#ff00ff"/>
<rect x="851.6" y="1614.1" width="6.6" height="38.9" fill="#ff00ff"/>
<rect x="887.9" y="1614.1" width="6.6" height="38.9" fill="#ff00ff"/>
<rect x="1157.6" y="1614.1" width="6.6" height="38.9" fill="#ff00ff"/>
<rect x="1277.5" y="1614.1" width="6.6" height="38.9" fill="#ff00ff"/>
<rect x="1371.9" y="1614.1" width="6.6" height="38.9" fill="#ff00ff"/>
<rect x="1407.9" y="1614.1" width="6.6" height="38.9" fill="#ff00ff"/>
<rect x="1498.0" y="1614.1" width="6.6" height="38.9" fill="#ff00ff"/>
<rect x="1516.9" y="1614.1" width="6.6" height="38.9" fill="#ff00ff"/>
<rect x="1055" y="92.9" width="131" height="9" rx="3" fill="#000000"/>
<rect x="1055" y="158.3" width="131" height="9" rx="3" fill="#ff0000"/>
<rect x="1055" y="225.2" width="131" height="9" rx="3" fill="#0000ff"/>
<rect x="1055" y="292.1" width="131" height="9" rx="3" fill="#008000"/>
<rect x="1117.6" y="344.5" width="7.4" height="40.1" fill="#0000ff"/>
<rect x="1117.6" y="410.8" width="7.4" height="40.7" fill="#00ffff"/>
<rect x="1117.6" y="497" width="7.4" height="38.7" fill="#ff00ff"/>
<rect x="1117.6" y="563" width="7.4" height="40.0" fill="#808000"/>
<text x="1195" y="115.4" font-size="54.5">C</text>
<text x="1195" y="181.5" font-size="54.5">Ru/C</text>
<text x="1195" y="248.5" font-size="54.5">LaRu/C</text>
<text x="1195" y="316" font-size="54.5">Ba0.2LaRu/C</text>
<text x="1195" y="383.2" font-size="54.5">Ru 060663</text>
<text x="1195" y="534.3" font-size="54.5">C 221069</text>
<text x="1195" y="601" font-size="54.5">C 752078</text>
<text x="1195" y="448.3" font-size="54.5">Ba(NO</text>
<text x="1362.8" y="471" font-size="33" fill="#2a2a2a">3</text>
<text x="1381" y="448.3" font-size="54.5">)</text>
<text x="1398.8" y="471" font-size="33" fill="#2a2a2a">2</text>
<text x="1430.5" y="448.3" font-size="54.5">240053</text>
<text x="1719" y="841.5" font-size="63">d</text>
<text x="1752.3" y="866.3" font-size="37" letter-spacing="3.8">Ru</text>
<text transform="translate(1803,843.6) scale(1,1.12)" x="0" y="0" font-size="62">:</text>
<text x="1707.5" y="968.7" font-size="54.6">14.0 nm</text>
<text x="1707.5" y="1106" font-size="54.6">14.5 nm</text>
<text x="1710" y="1242" font-size="54.6">15.0 nm</text>
</svg>
</body></html>
